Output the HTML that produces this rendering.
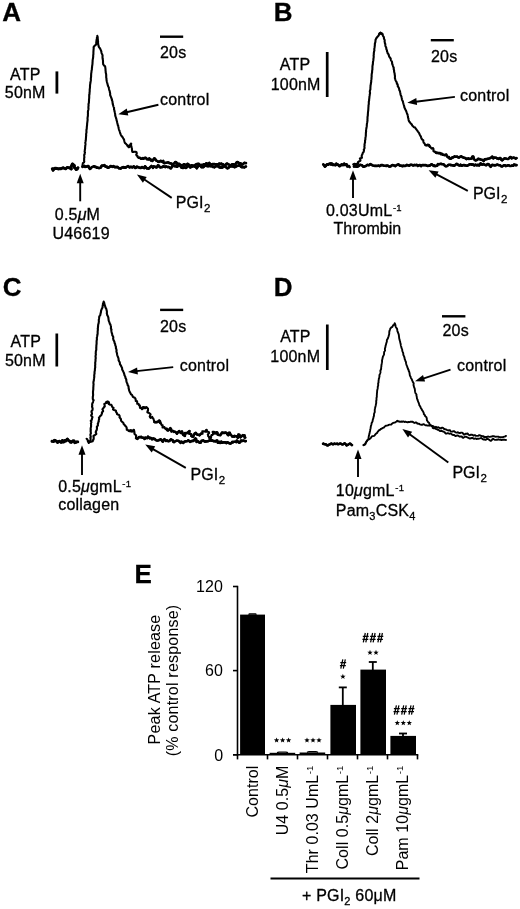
<!DOCTYPE html>
<html><head><meta charset="utf-8"><style>
html,body{margin:0;padding:0;background:#fff;width:520px;height:909px;overflow:hidden;}
svg{display:block;will-change:transform;}
text{font-family:"Liberation Sans", sans-serif;stroke:#000;stroke-width:0.3px;}
.ns text{stroke:none;}
</style></head><body>
<svg width="520" height="909" viewBox="0 0 520 909" font-family="Liberation Sans, sans-serif" fill="#000" letter-spacing="0.2"><text x="2.2" y="21.0" font-size="26" text-anchor="start" font-weight="bold" >A</text>
<text x="10.0" y="79.5" font-size="16" text-anchor="start" font-weight="normal" >ATP</text>
<text x="4.8" y="98.4" font-size="16" text-anchor="start" font-weight="normal" >50nM</text>
<line x1="56.9" y1="71.4" x2="56.9" y2="93.6" stroke="#000" stroke-width="2.8"/>
<line x1="160.0" y1="36.7" x2="183.2" y2="36.7" stroke="#000" stroke-width="2.4"/>
<text x="160.0" y="58.2" font-size="16" text-anchor="start" font-weight="normal" >20s</text>
<text x="160.0" y="105.0" font-size="16" text-anchor="start" font-weight="normal" >control</text>
<line x1="158.4" y1="104.8" x2="126.6" y2="112.2" stroke="#000" stroke-width="1.9"/><polygon points="118.3,114.2 126.8,108.6 128.3,115.4" fill="#000"/>
<text x="175.8" y="208.0" font-size="16" letter-spacing="0">PGI<tspan font-size="11.5" dx="0.6" dy="4">2</tspan></text>
<line x1="171.7" y1="197.9" x2="144.0" y2="179.3" stroke="#000" stroke-width="1.9"/><polygon points="136.9,174.6 146.7,177.0 142.9,182.8" fill="#000"/>
<line x1="80.2" y1="201.3" x2="80.2" y2="182.2" stroke="#000" stroke-width="1.9"/><polygon points="80.2,173.7 83.7,183.2 76.7,183.2" fill="#000"/>
<text x="54.8" y="220.0" font-size="16" text-anchor="start" font-weight="normal" >0.5<tspan font-style="italic">μ</tspan>M</text>
<text x="52.5" y="239.2" font-size="16" text-anchor="start" font-weight="normal" >U46619</text>
<path d="M52.3,168.8 L53.1,170.3 L54.0,168.7 L54.9,168.1 L55.7,168.6 L56.6,168.3 L57.4,168.6 L58.3,169.0 L59.1,168.7 L60.0,168.7 L60.8,168.9 L61.6,168.3 L62.4,168.0 L63.2,167.8 L64.0,168.2 L64.8,168.5 L65.6,168.8 L66.4,168.2 L67.2,167.5 L67.8,167.4 L68.9,168.1 L69.7,167.9 L71.3,169.0 L71.1,166.8 L72.4,163.9 L74.4,165.7 L74.3,166.6 L74.4,167.5 L75.3,168.2 L76.1,169.5 L77.1,169.2 L78.0,167.7" fill="none" stroke="#000" stroke-linejoin="round" stroke-linecap="round" stroke-width="2.4"/>
<path d="M52.3,168.8 L53.1,170.3 L54.0,168.7 L54.9,168.1 L55.7,168.6 L56.6,168.3 L57.4,168.6 L58.3,169.0 L59.1,168.7 L60.0,168.7 L60.8,168.9 L61.6,168.3 L62.4,168.0 L63.2,167.8 L64.0,168.2 L64.8,168.5 L65.6,168.8 L66.4,168.2 L67.2,167.5 L67.8,167.4" fill="none" stroke="#000" stroke-linejoin="round" stroke-linecap="round" stroke-width="2.9"/>
<path d="M69.7,167.9 L71.3,169.0 L71.1,166.8 L72.4,163.9 L74.4,165.7 L74.3,166.6 L74.4,167.5 L75.3,168.2 L76.1,169.5 L77.1,169.2 L78.0,167.7" fill="none" stroke="#000" stroke-linejoin="round" stroke-linecap="round" stroke-width="2.9"/>
<path d="M82.3,166.3 L82.5,165.1 L82.7,164.1 L82.9,163.1 L84.0,162.3 L84.3,161.5 L84.1,160.7 L84.1,159.8 L84.2,159.0 L84.1,158.2 L84.4,157.4 L84.3,156.5 L84.2,155.7 L84.2,154.9 L84.7,154.1 L84.7,153.2 L85.0,152.4 L84.6,151.6 L84.8,150.7 L84.8,149.9 L85.0,149.1 L85.1,148.3 L85.1,147.5 L85.2,146.6 L85.2,145.8 L85.4,145.0 L85.5,144.2 L85.4,143.3 L85.3,142.5 L85.5,141.7 L85.7,140.8 L85.8,140.0 L85.9,139.2 L85.9,138.4 L86.0,137.6 L86.0,136.8 L86.1,136.0 L86.2,135.2 L86.1,134.4 L86.2,133.6 L86.4,132.8 L86.5,132.0 L86.4,131.2 L86.4,130.4 L86.6,129.6 L86.7,128.8 L86.8,128.0 L86.8,127.2 L86.9,126.4 L87.0,125.6 L87.1,124.8 L87.1,124.0 L87.2,123.2 L87.3,122.4 L87.4,121.6 L87.5,120.8 L87.6,120.0 L87.6,119.2 L87.5,118.4 L87.6,117.6 L87.7,116.8 L87.9,116.0 L87.9,115.2 L87.9,114.4 L88.0,113.5 L87.9,112.7 L87.9,111.9 L88.0,111.1 L88.2,110.2 L88.4,109.4 L88.5,108.6 L88.4,107.8 L88.4,107.0 L88.5,106.1 L88.6,105.3 L88.5,104.5 L88.6,103.7 L88.9,102.9 L88.9,102.0 L89.0,101.2 L89.0,100.4 L89.0,99.6 L89.1,98.8 L89.2,97.9 L89.2,97.1 L89.2,96.3 L89.2,95.5 L89.4,94.6 L89.5,93.8 L89.5,93.0 L89.6,92.2 L89.7,91.4 L89.7,90.5 L89.7,89.7 L89.8,88.9 L89.9,88.1 L90.0,87.3 L90.0,86.4 L90.0,85.6 L90.1,84.8 L90.2,84.0 L90.4,83.1 L90.5,82.3 L90.6,81.5 L90.8,80.7 L90.9,79.9 L90.8,79.0 L90.9,78.2 L91.0,77.4 L91.1,76.6 L91.1,75.7 L91.1,74.9 L91.2,74.1 L91.2,73.3 L91.4,72.5 L91.5,71.6 L91.5,70.8 L91.8,70.0 L91.9,69.0 L91.9,68.0 L92.1,67.0 L92.1,66.1 L92.3,65.3 L92.4,64.4 L92.5,63.5 L92.5,62.6 L92.6,61.8 L92.6,60.9 L92.7,60.0 L92.8,59.2 L93.0,58.3 L93.1,57.5 L93.2,56.7 L93.2,55.9 L93.2,55.1 L93.4,54.3 L93.4,53.5 L93.4,52.7 L93.4,51.8 L93.5,51.0 L93.5,50.2 L93.6,49.4 L93.7,48.6 L93.6,47.8 L93.7,47.0 L94.7,45.7 L95.4,45.1 L96.1,44.6 L96.3,43.7 L96.2,42.9 L96.3,42.1 L96.4,41.3 L96.5,40.4 L96.6,39.6 L96.9,38.8 L96.9,38.0 L97.0,37.2 L97.2,36.4 L97.3,35.8 L97.4,36.4 L97.7,37.3 L97.7,38.1 L97.8,39.0 L97.9,39.8 L97.9,40.7 L98.1,41.5 L98.0,42.4 L98.1,43.2 L98.2,44.1 L98.3,44.9 L98.6,45.7 L98.7,46.6 L99.1,47.4 L99.8,48.0 L100.2,48.8 L100.6,49.6 L100.9,50.3 L101.2,51.1 L101.4,51.8 L101.5,52.7 L101.7,53.4 L102.1,54.1 L102.4,54.9 L102.6,55.7 L102.5,56.6 L102.5,57.4 L102.6,58.3 L102.7,59.1 L102.9,60.0 L103.0,60.9 L103.0,61.7 L103.0,62.6 L103.1,63.4 L103.2,64.3 L103.7,65.0 L104.2,65.7 L105.0,66.1 L105.2,66.8 L105.3,67.6 L105.4,68.4 L105.5,69.2 L105.5,70.0 L105.6,70.8 L105.7,71.6 L105.7,72.5 L105.9,73.3 L106.1,74.1 L106.2,74.9 L106.2,75.7 L106.2,76.6 L106.2,77.4 L106.4,78.2 L106.5,79.0 L106.5,79.9 L106.7,80.7 L106.8,81.5 L107.0,82.3 L107.3,83.2 L107.5,84.0 L107.7,84.8 L107.9,85.7 L108.2,86.5 L108.7,87.3 L108.9,88.1 L109.0,88.9 L109.2,89.8 L109.5,90.6 L109.8,91.4 L109.8,92.2 L110.1,93.0 L110.2,93.9 L110.1,94.8 L110.4,95.6 L110.7,96.4 L111.0,97.2 L111.3,98.0 L111.7,98.8 L111.8,99.6 L112.0,100.4 L112.4,101.2 L112.5,102.1 L112.6,103.0 L112.7,103.8 L112.9,104.7 L113.2,105.5 L113.4,106.3 L113.7,107.1 L114.1,107.9 L114.0,108.8 L114.1,109.6 L114.4,110.4 L114.5,111.3 L114.8,112.1 L114.9,112.9 L115.1,113.7 L115.2,114.6 L115.2,115.4 L115.4,116.2 L115.7,117.0 L116.0,117.8 L116.2,118.7 L116.5,119.5 L116.6,120.4 L116.9,121.2 L117.1,122.0 L117.3,122.9 L117.5,123.7 L117.7,124.5 L117.9,125.4 L118.3,126.1 L118.4,126.9 L118.6,127.7 L118.7,128.5 L118.9,129.3 L119.1,130.0 L119.5,130.8 L119.7,131.5 L120.0,132.3 L120.1,133.1 L120.5,133.8 L120.7,134.6 L121.1,135.4 L121.6,136.0 L122.2,136.7 L122.7,137.4 L123.1,138.1 L123.5,138.9 L124.0,139.5 L124.2,140.4 L124.4,141.2 L124.6,142.1 L124.9,142.9 L125.6,143.5 L126.2,144.1 L126.7,144.7 L127.3,145.4 L127.9,145.9 L128.6,146.4 L128.8,147.0 L129.4,146.7 L129.9,146.0 L130.3,145.3 L130.6,144.5 L131.0,143.9 L131.0,144.7 L131.1,145.6 L131.4,146.4 L131.6,147.3 L131.9,148.2 L131.9,149.1 L132.0,149.9 L132.1,150.9 L132.4,152.0 L133.5,151.9 L134.6,151.7 L135.5,151.8 L136.5,152.3 L136.8,153.4 L136.2,154.7 L136.5,155.5 L137.5,156.0 L137.6,156.9 L138.2,157.4 L138.8,157.7 L139.7,157.7 L140.4,158.2 L141.1,158.8 L142.0,158.7 L142.9,158.1 L143.6,158.7 L144.5,158.0 L145.3,157.8 L146.1,158.0 L146.8,159.2 L147.6,159.3 L148.4,159.5 L149.3,158.4 L150.0,159.1 L150.8,160.3 L151.6,159.8 L152.4,160.9 L153.3,159.8 L154.3,158.3 L155.1,158.9 L155.8,160.0 L156.6,160.8 L157.4,161.1 L158.2,161.8 L159.0,161.9 L159.8,161.6 L160.8,160.8 L161.4,161.3 L162.1,161.8 L163.2,160.9 L163.6,162.6 L164.3,163.1 L165.1,163.0 L166.1,162.7 L166.9,162.6 L167.8,162.4 L168.6,162.5 L169.3,163.1 L170.1,163.2 L170.9,163.3 L171.6,164.1 L172.4,164.4 L173.3,163.7 L174.2,163.5 L175.2,162.1 L176.0,162.1 L176.8,162.9 L177.5,164.6 L178.4,163.8 L179.2,163.9 L180.0,164.9 L180.8,164.9 L181.6,165.8 L182.4,165.3 L183.4,164.7 L184.2,164.2 L185.0,164.6 L185.8,165.3 L186.6,165.1 L187.4,163.9 L188.2,164.0 L189.1,165.5 L189.9,166.7 L190.7,165.8 L191.5,165.2 L192.3,165.5 L193.1,165.5 L193.9,166.0 L194.8,166.1 L195.5,164.7 L196.3,164.3 L197.1,164.0 L198.0,163.9 L198.8,163.7 L199.6,165.1 L200.4,165.5 L201.2,164.9 L202.0,165.9 L202.8,164.8 L203.6,164.4 L204.5,164.4 L205.3,164.6 L206.1,163.4 L206.9,163.4 L207.7,164.5 L208.5,164.2 L209.3,162.8 L210.1,164.6 L211.0,165.1 L211.8,164.2 L212.6,164.1 L213.4,164.1 L214.2,164.0 L215.0,164.3 L215.8,164.3 L216.6,164.2 L217.4,164.3 L218.3,165.1 L219.1,163.5 L219.9,164.3 L220.7,163.7 L221.5,163.6 L222.3,164.7 L223.2,164.3 L224.0,165.1 L224.8,165.5 L225.6,165.0 L226.4,163.8 L227.2,163.6 L228.1,164.3 L228.9,164.6 L229.7,164.9 L230.5,165.6 L231.3,165.0 L232.1,164.3 L233.0,164.4 L233.8,164.4 L234.6,165.6 L235.4,164.5 L236.2,162.9 L237.0,162.0 L237.8,162.0 L238.6,163.0 L239.5,163.1 L240.3,163.2 L241.1,163.6 L241.9,164.6 L242.7,164.5 L243.5,163.6 L244.3,162.8 L245.2,163.0 L246.0,163.1" fill="none" stroke="#000" stroke-linejoin="round" stroke-linecap="round" stroke-width="2.1"/>
<path d="M127.9,145.9 L128.6,146.4 L128.8,147.0 L129.4,146.7 L129.9,146.0 L130.3,145.3 L130.6,144.5 L131.0,143.9" fill="none" stroke="#000" stroke-linejoin="round" stroke-linecap="round" stroke-width="2.6"/>
<path d="M138.8,157.7 L139.7,157.7 L140.4,158.2 L141.1,158.8 L142.0,158.7 L142.9,158.1 L143.6,158.7 L144.5,158.0 L145.3,157.8 L146.1,158.0 L146.8,159.2 L147.6,159.3 L148.4,159.5 L149.3,158.4 L150.0,159.1 L150.8,160.3 L151.6,159.8 L152.4,160.9 L153.3,159.8 L154.3,158.3 L155.1,158.9 L155.8,160.0 L156.6,160.8 L157.4,161.1 L158.2,161.8 L159.0,161.9 L159.8,161.6 L160.8,160.8 L161.4,161.3 L162.1,161.8 L163.2,160.9 L163.6,162.6 L164.3,163.1 L165.1,163.0 L166.1,162.7 L166.9,162.6 L167.8,162.4 L168.6,162.5 L169.3,163.1 L170.1,163.2 L170.9,163.3 L171.6,164.1 L172.4,164.4 L173.3,163.7 L174.2,163.5 L175.2,162.1 L176.0,162.1 L176.8,162.9 L177.5,164.6 L178.4,163.8 L179.2,163.9 L180.0,164.9 L180.8,164.9 L181.6,165.8 L182.4,165.3 L183.4,164.7 L184.2,164.2 L185.0,164.6 L185.8,165.3 L186.6,165.1 L187.4,163.9 L188.2,164.0 L189.1,165.5 L189.9,166.7 L190.7,165.8 L191.5,165.2 L192.3,165.5 L193.1,165.5 L193.9,166.0 L194.8,166.1 L195.5,164.7 L196.3,164.3 L197.1,164.0 L198.0,163.9 L198.8,163.7 L199.6,165.1 L200.4,165.5 L201.2,164.9 L202.0,165.9 L202.8,164.8 L203.6,164.4 L204.5,164.4 L205.3,164.6 L206.1,163.4 L206.9,163.4 L207.7,164.5 L208.5,164.2 L209.3,162.8 L210.1,164.6 L211.0,165.1 L211.8,164.2 L212.6,164.1 L213.4,164.1 L214.2,164.0 L215.0,164.3 L215.8,164.3 L216.6,164.2 L217.4,164.3 L218.3,165.1 L219.1,163.5 L219.9,164.3 L220.7,163.7 L221.5,163.6 L222.3,164.7 L223.2,164.3 L224.0,165.1 L224.8,165.5 L225.6,165.0 L226.4,163.8 L227.2,163.6 L228.1,164.3 L228.9,164.6 L229.7,164.9 L230.5,165.6 L231.3,165.0 L232.1,164.3 L233.0,164.4 L233.8,164.4 L234.6,165.6 L235.4,164.5 L236.2,162.9 L237.0,162.0 L237.8,162.0 L238.6,163.0 L239.5,163.1 L240.3,163.2 L241.1,163.6 L241.9,164.6 L242.7,164.5 L243.5,163.6 L244.3,162.8 L245.2,163.0 L246.0,163.1" fill="none" stroke="#000" stroke-linejoin="round" stroke-linecap="round" stroke-width="2.6"/>
<path d="M82.5,166.8 L83.4,166.3 L84.3,165.8 L85.0,166.9 L85.9,166.6 L86.7,166.6 L87.6,166.0 L88.4,166.1 L89.1,167.8 L89.9,168.9 L90.8,168.3 L91.7,167.2 L92.5,166.9 L93.3,166.6 L94.2,166.3 L95.0,167.0 L95.8,166.9 L96.7,167.6 L97.5,167.5 L98.3,167.9 L99.2,168.1 L100.2,167.8 L101.1,167.3 L101.4,166.1 L102.0,165.5 L103.4,165.8 L103.7,165.6 L104.4,165.1 L104.9,165.8 L105.3,166.5 L106.1,166.8 L106.8,166.5 L107.6,167.8 L108.5,167.8 L109.3,167.1 L110.1,166.5 L111.0,166.0 L111.8,166.5 L112.6,166.9 L113.4,166.1 L114.2,166.8 L115.1,167.3 L115.9,166.8 L116.7,167.2 L117.5,166.9 L118.3,167.7 L119.2,168.4 L120.0,168.1 L120.8,168.6 L121.6,167.8 L122.4,167.5 L123.2,167.0 L124.0,167.7 L124.8,167.4 L125.6,167.7 L126.5,166.9 L127.3,166.6 L128.1,166.0 L128.9,167.0 L129.7,167.5 L130.5,166.9 L131.3,166.9 L132.1,167.4 L132.9,167.2 L133.7,166.3 L134.5,166.8 L135.3,168.0 L136.1,167.6 L136.9,166.6 L137.7,167.0 L138.5,167.4 L139.4,167.5 L140.2,168.0 L141.0,167.9 L141.8,167.0 L142.6,167.4 L143.4,167.9 L144.2,168.1 L145.0,166.3 L145.8,167.0 L146.7,168.4 L147.5,168.3 L148.3,168.7 L149.1,168.4 L149.8,167.5 L150.6,166.9 L151.4,166.0 L152.2,166.8 L153.1,167.8 L153.8,166.3 L154.7,166.8 L155.5,166.8 L156.3,167.5 L157.1,167.1 L157.8,165.4 L158.7,165.5 L159.5,166.8 L160.3,167.4 L161.1,167.3 L161.9,167.2 L162.7,166.6 L163.5,166.3 L164.4,166.7 L165.2,167.1 L166.0,166.4 L166.8,166.7 L167.6,167.1 L168.4,166.9 L169.2,167.2 L170.0,168.0 L170.8,168.4 L171.6,167.4 L172.4,165.8 L173.2,165.7 L174.1,166.1 L174.9,166.1 L175.7,165.6 L176.5,166.7 L177.3,166.7 L178.1,165.4 L178.9,165.3 L179.7,165.5 L180.5,166.2 L181.4,167.6 L182.2,167.7 L183.0,168.0 L183.8,167.2 L184.6,167.1 L185.4,167.9 L186.2,167.9 L187.0,167.0 L187.8,166.5 L188.6,165.7 L189.5,165.6 L190.3,167.5 L191.1,167.0 L191.9,166.8 L192.7,166.1 L193.5,166.1 L194.3,166.4 L195.1,165.6 L195.9,167.2 L196.8,168.3 L197.6,166.9 L198.4,165.8 L199.2,165.4 L200.0,165.8 L200.8,166.4 L201.6,167.3 L202.4,167.0 L203.2,167.3 L204.0,166.6 L204.8,165.9 L205.6,165.8 L206.5,165.7 L207.3,166.3 L208.1,166.0 L208.9,166.1 L209.7,165.6 L210.5,166.3 L211.3,166.0 L212.1,166.2 L212.9,166.9 L213.7,166.8 L214.5,167.3 L215.3,166.6 L216.1,166.1 L216.9,166.2 L217.8,166.1 L218.6,166.8 L219.4,167.3 L220.2,167.7 L221.0,167.1 L221.8,167.7 L222.6,167.4 L223.4,166.6 L224.2,166.3 L225.0,166.6 L225.8,167.1 L226.6,167.6 L227.4,168.4 L228.3,168.0 L229.1,167.2 L229.9,166.4 L230.7,166.5 L231.5,166.1 L232.3,166.4 L233.1,166.6 L233.9,166.9 L234.7,167.2 L235.5,166.6 L236.3,166.5 L237.1,165.7 L237.9,165.8 L238.7,165.4 L239.5,165.4 L240.3,166.0 L241.2,166.9 L242.0,167.3 L242.8,167.3 L243.6,167.3 L244.4,167.4 L245.2,166.8 L246.0,166.5" fill="none" stroke="#000" stroke-linejoin="round" stroke-linecap="round" stroke-width="2.1"/>
<path d="M82.5,166.8 L83.4,166.3 L84.3,165.8 L85.0,166.9 L85.9,166.6 L86.7,166.6 L87.6,166.0 L88.4,166.1 L89.1,167.8 L89.9,168.9 L90.8,168.3 L91.7,167.2 L92.5,166.9 L93.3,166.6 L94.2,166.3 L95.0,167.0 L95.8,166.9 L96.7,167.6 L97.5,167.5 L98.3,167.9 L99.2,168.1 L100.2,167.8 L101.1,167.3 L101.4,166.1 L102.0,165.5 L103.4,165.8 L103.7,165.6 L104.4,165.1 L104.9,165.8 L105.3,166.5 L106.1,166.8 L106.8,166.5 L107.6,167.8 L108.5,167.8 L109.3,167.1 L110.1,166.5 L111.0,166.0 L111.8,166.5 L112.6,166.9 L113.4,166.1 L114.2,166.8 L115.1,167.3 L115.9,166.8 L116.7,167.2 L117.5,166.9 L118.3,167.7 L119.2,168.4 L120.0,168.1 L120.8,168.6 L121.6,167.8 L122.4,167.5 L123.2,167.0 L124.0,167.7 L124.8,167.4 L125.6,167.7 L126.5,166.9 L127.3,166.6 L128.1,166.0 L128.9,167.0 L129.7,167.5 L130.5,166.9 L131.3,166.9 L132.1,167.4 L132.9,167.2 L133.7,166.3 L134.5,166.8 L135.3,168.0 L136.1,167.6 L136.9,166.6 L137.7,167.0 L138.5,167.4 L139.4,167.5 L140.2,168.0 L141.0,167.9 L141.8,167.0 L142.6,167.4 L143.4,167.9 L144.2,168.1 L145.0,166.3 L145.8,167.0 L146.7,168.4 L147.5,168.3 L148.3,168.7 L149.1,168.4 L149.8,167.5 L150.6,166.9 L151.4,166.0 L152.2,166.8 L153.1,167.8 L153.8,166.3 L154.7,166.8 L155.5,166.8 L156.3,167.5 L157.1,167.1 L157.8,165.4 L158.7,165.5 L159.5,166.8 L160.3,167.4 L161.1,167.3 L161.9,167.2 L162.7,166.6 L163.5,166.3 L164.4,166.7 L165.2,167.1 L166.0,166.4 L166.8,166.7 L167.6,167.1 L168.4,166.9 L169.2,167.2 L170.0,168.0 L170.8,168.4 L171.6,167.4 L172.4,165.8 L173.2,165.7 L174.1,166.1 L174.9,166.1 L175.7,165.6 L176.5,166.7 L177.3,166.7 L178.1,165.4 L178.9,165.3 L179.7,165.5 L180.5,166.2 L181.4,167.6 L182.2,167.7 L183.0,168.0 L183.8,167.2 L184.6,167.1 L185.4,167.9 L186.2,167.9 L187.0,167.0 L187.8,166.5 L188.6,165.7 L189.5,165.6 L190.3,167.5 L191.1,167.0 L191.9,166.8 L192.7,166.1 L193.5,166.1 L194.3,166.4 L195.1,165.6 L195.9,167.2 L196.8,168.3 L197.6,166.9 L198.4,165.8 L199.2,165.4 L200.0,165.8 L200.8,166.4 L201.6,167.3 L202.4,167.0 L203.2,167.3 L204.0,166.6 L204.8,165.9 L205.6,165.8 L206.5,165.7 L207.3,166.3 L208.1,166.0 L208.9,166.1 L209.7,165.6 L210.5,166.3 L211.3,166.0 L212.1,166.2 L212.9,166.9 L213.7,166.8 L214.5,167.3 L215.3,166.6 L216.1,166.1 L216.9,166.2 L217.8,166.1 L218.6,166.8 L219.4,167.3 L220.2,167.7 L221.0,167.1 L221.8,167.7 L222.6,167.4 L223.4,166.6 L224.2,166.3 L225.0,166.6 L225.8,167.1 L226.6,167.6 L227.4,168.4 L228.3,168.0 L229.1,167.2 L229.9,166.4 L230.7,166.5 L231.5,166.1 L232.3,166.4 L233.1,166.6 L233.9,166.9 L234.7,167.2 L235.5,166.6 L236.3,166.5 L237.1,165.7 L237.9,165.8 L238.7,165.4 L239.5,165.4 L240.3,166.0 L241.2,166.9 L242.0,167.3 L242.8,167.3 L243.6,167.3 L244.4,167.4 L245.2,166.8 L246.0,166.5" fill="none" stroke="#000" stroke-linejoin="round" stroke-linecap="round" stroke-width="2.6"/>
<text x="273.7" y="21.0" font-size="26" text-anchor="start" font-weight="bold" >B</text>
<text x="279.8" y="69.5" font-size="16" text-anchor="start" font-weight="normal" >ATP</text>
<text x="270.7" y="89.5" font-size="16" text-anchor="start" font-weight="normal" >100nM</text>
<line x1="327.2" y1="52.0" x2="327.2" y2="97.0" stroke="#000" stroke-width="2.7"/>
<line x1="430.8" y1="40.2" x2="453.8" y2="40.2" stroke="#000" stroke-width="2.4"/>
<text x="431.0" y="61.5" font-size="16" text-anchor="start" font-weight="normal" >20s</text>
<text x="460.0" y="101.0" font-size="16" text-anchor="start" font-weight="normal" >control</text>
<line x1="454.9" y1="96.9" x2="415.7" y2="101.7" stroke="#000" stroke-width="1.9"/><polygon points="407.3,102.8 416.3,98.1 417.1,105.1" fill="#000"/>
<text x="472.9" y="199.4" font-size="16" letter-spacing="0">PGI<tspan font-size="11.5" dx="0.6" dy="4">2</tspan></text>
<line x1="467.8" y1="190.8" x2="436.1" y2="174.2" stroke="#000" stroke-width="1.9"/><polygon points="428.6,170.3 438.6,171.6 435.4,177.8" fill="#000"/>
<line x1="353.0" y1="197.9" x2="353.0" y2="178.8" stroke="#000" stroke-width="1.9"/><polygon points="353.0,170.3 356.5,179.8 349.5,179.8" fill="#000"/>
<text x="326.0" y="215.8" font-size="16" text-anchor="start" font-weight="normal" >0.03UmL<tspan font-size="9.5" dx="0.6" dy="-5.2">-1</tspan></text>
<text x="333.5" y="233.5" font-size="16" text-anchor="start" font-weight="normal" letter-spacing="0">Thrombin</text>
<path d="M323.3,164.4 L324.1,165.3 L324.9,166.6 L325.7,166.0 L326.6,164.7 L327.4,164.3 L328.2,164.7 L328.6,164.5 L328.8,164.1 L329.8,163.7 L330.9,163.5 L331.2,164.5 L331.1,163.5 L332.1,163.7 L332.5,164.4 L333.0,165.0 L333.8,164.7 L334.6,165.0 L335.4,165.2 L336.3,163.7 L337.0,164.6 L337.8,164.5 L338.6,165.3 L339.4,166.1 L340.2,165.9 L341.0,164.9 L341.8,164.4 L342.6,165.0 L343.4,165.0 L344.2,163.7 L345.0,164.9 L345.8,164.6 L346.6,164.4 L347.4,166.4 L348.2,166.2 L349.0,166.2 L349.8,167.2" fill="none" stroke="#000" stroke-linejoin="round" stroke-linecap="round" stroke-width="2.3"/>
<path d="M323.3,164.4 L324.1,165.3 L324.9,166.6 L325.7,166.0 L326.6,164.7 L327.4,164.3 L328.2,164.7 L328.6,164.5 L328.8,164.1 L329.8,163.7 L330.9,163.5 L331.2,164.5 L331.1,163.5 L332.1,163.7 L332.5,164.4 L333.0,165.0 L333.8,164.7 L334.6,165.0 L335.4,165.2 L336.3,163.7 L337.0,164.6 L337.8,164.5 L338.6,165.3 L339.4,166.1 L340.2,165.9 L341.0,164.9 L341.8,164.4 L342.6,165.0 L343.4,165.0 L344.2,163.7 L345.0,164.9 L345.8,164.6 L346.6,164.4 L347.4,166.4 L348.2,166.2 L349.0,166.2" fill="none" stroke="#000" stroke-linejoin="round" stroke-linecap="round" stroke-width="2.7"/>
<path d="M353.6,164.4 L354.6,164.1 L355.8,164.4 L356.9,164.5 L357.3,163.8 L358.0,163.3 L358.0,162.2 L358.7,161.7 L359.4,161.2 L360.3,160.8 L360.5,159.9 L359.9,158.5 L360.9,158.1 L362.0,157.7 L361.7,156.7 L361.7,155.8 L361.9,155.0 L362.4,154.3 L362.6,153.5 L362.9,152.7 L363.6,152.0 L363.8,151.2 L364.0,150.4 L363.8,149.5 L364.3,148.7 L364.6,147.9 L364.4,147.0 L364.4,146.2 L364.6,145.4 L364.5,144.6 L364.7,143.8 L364.8,143.0 L365.1,142.2 L365.0,141.4 L365.0,140.6 L365.3,139.8 L365.4,139.0 L365.4,138.2 L365.5,137.4 L365.7,136.5 L365.8,135.7 L365.9,134.9 L365.8,134.1 L365.9,133.3 L365.9,132.4 L366.1,131.6 L366.1,130.8 L366.0,130.0 L366.2,129.2 L366.4,128.3 L366.5,127.5 L366.7,126.7 L366.8,125.8 L366.8,125.0 L366.9,124.1 L367.0,123.3 L367.2,122.4 L367.3,121.6 L367.5,120.7 L367.4,119.9 L367.5,119.0 L367.5,118.2 L367.5,117.3 L367.6,116.5 L367.8,115.7 L367.8,114.8 L367.9,114.0 L367.9,113.2 L368.0,112.4 L368.1,111.5 L368.2,110.7 L368.3,109.9 L368.3,109.1 L368.4,108.2 L368.4,107.4 L368.5,106.6 L368.5,105.7 L368.6,104.9 L368.8,104.1 L368.8,103.3 L368.8,102.5 L368.8,101.6 L369.1,100.8 L369.1,100.0 L369.2,99.2 L369.3,98.3 L369.4,97.5 L369.4,96.7 L369.6,95.9 L369.7,95.1 L369.8,94.2 L370.0,93.4 L370.0,92.6 L369.8,91.7 L369.9,90.9 L370.1,90.1 L370.4,89.3 L370.4,88.5 L370.4,87.6 L370.5,86.8 L370.5,86.0 L370.6,85.2 L370.8,84.3 L370.9,83.5 L371.0,82.7 L371.2,81.9 L371.2,81.1 L371.2,80.2 L371.4,79.4 L371.5,78.6 L371.5,77.8 L371.6,76.9 L371.7,76.1 L371.6,75.3 L371.7,74.4 L371.8,73.6 L372.0,72.8 L372.1,72.0 L372.1,71.2 L372.2,70.3 L372.4,69.5 L372.4,68.7 L372.4,67.9 L372.5,67.0 L372.4,66.2 L372.6,65.4 L372.8,64.6 L372.9,63.8 L372.9,62.9 L373.0,62.1 L373.1,61.3 L373.3,60.4 L373.4,59.6 L373.4,58.8 L373.6,58.0 L373.7,57.1 L373.7,56.3 L373.6,55.5 L373.8,54.6 L373.8,53.8 L373.8,53.0 L374.0,52.1 L374.1,51.3 L374.4,50.5 L374.3,49.7 L374.3,48.8 L374.5,48.0 L374.6,47.2 L374.7,46.4 L374.8,45.6 L374.9,44.8 L374.8,44.0 L375.0,43.2 L375.3,42.4 L375.4,41.6 L375.5,40.8 L375.5,40.0 L375.9,39.1 L376.3,38.2 L376.9,37.5 L377.5,36.8 L378.2,36.1 L378.8,35.4 L379.0,34.3 L379.7,33.6 L380.5,32.9 L381.2,33.5 L382.0,33.8 L382.7,34.3 L382.8,35.7 L383.5,36.6 L383.9,37.3 L383.9,38.2 L384.1,39.0 L384.6,39.8 L384.7,40.6 L384.6,41.5 L384.8,42.3 L384.9,43.2 L385.3,44.0 L385.3,44.8 L385.4,45.7 L385.6,46.5 L386.1,47.3 L386.3,48.2 L386.3,49.0 L386.7,49.8 L387.0,50.6 L387.0,51.5 L387.5,52.3 L387.6,53.2 L388.2,53.9 L388.7,54.6 L388.8,55.5 L389.1,56.3 L389.5,57.1 L390.0,57.8 L390.7,58.5 L390.8,59.4 L391.0,60.3 L391.5,61.0 L392.0,61.8 L392.1,62.6 L392.1,63.5 L392.3,64.2 L392.7,65.0 L392.9,65.8 L393.1,66.5 L393.5,67.3 L393.8,68.0 L393.6,68.9 L393.9,69.7 L394.1,70.5 L394.1,71.4 L394.2,72.2 L394.5,73.0 L394.7,73.9 L394.7,74.7 L394.9,75.6 L395.0,76.4 L394.9,77.3 L394.9,78.2 L395.2,79.0 L395.4,79.8 L395.7,80.6 L396.1,81.4 L396.6,82.1 L396.8,82.9 L396.9,83.8 L397.6,84.4 L397.8,85.3 L397.7,86.2 L398.2,86.9 L398.7,87.6 L399.0,88.4 L399.2,89.2 L399.3,90.1 L399.8,90.8 L400.0,91.6 L400.2,92.5 L400.4,93.3 L400.5,94.2 L400.7,95.0 L401.1,95.8 L401.4,96.6 L401.6,97.5 L401.8,98.3 L401.9,99.2 L402.1,100.0 L402.6,100.8 L402.9,101.6 L403.1,102.5 L403.3,103.3 L403.6,104.2 L403.8,105.0 L404.1,105.9 L404.3,106.7 L404.4,107.6 L404.8,108.3 L405.1,109.1 L405.5,109.8 L405.9,110.5 L406.2,111.2 L406.5,112.0 L406.8,112.8 L407.1,113.5 L407.3,114.3 L407.7,115.0 L407.8,115.9 L408.0,116.7 L408.0,117.5 L408.3,118.3 L408.5,119.1 L408.6,119.9 L408.8,120.7 L409.1,121.5 L409.8,122.1 L410.3,122.8 L410.7,123.6 L411.6,124.1 L411.9,124.9 L412.4,125.7 L413.0,126.2 L413.6,126.8 L414.3,127.3 L415.2,127.5 L415.5,128.3 L416.0,128.9 L416.5,129.6 L417.0,130.2 L417.5,130.9 L417.9,131.6 L418.4,132.2 L418.9,132.8 L419.3,133.5 L419.6,134.4 L420.0,135.1 L420.4,135.9 L420.9,136.6 L421.1,137.5 L421.4,138.3 L421.8,139.1 L422.4,139.7 L423.3,140.1 L423.3,141.0 L423.5,141.9 L423.7,142.7 L424.4,143.3 L424.9,144.2 L425.2,145.2 L426.3,145.2 L427.8,144.9 L428.8,145.1 L429.3,145.8 L429.9,146.6 L430.4,147.2 L431.0,147.9 L431.6,148.6 L433.0,148.0 L433.5,148.9 L433.4,151.0 L434.0,151.6 L435.1,151.6 L435.7,152.3 L436.3,153.0 L437.5,152.9 L438.5,153.1 L439.6,153.0 L440.4,153.4 L440.9,154.1 L441.8,153.7 L442.6,154.6 L443.5,154.7 L444.3,155.1 L445.2,154.9 L446.3,154.6 L446.7,155.8 L447.3,156.6 L448.0,157.3 L449.0,157.1 L449.4,158.3 L450.1,158.7 L451.4,158.4 L452.3,157.3 L453.1,157.5 L453.9,156.9 L454.7,156.4 L455.5,156.8 L456.3,156.8 L457.1,156.6 L458.0,157.3 L458.8,157.6 L459.6,157.1 L460.6,156.5 L461.5,156.4 L462.3,157.2 L463.1,157.3 L463.9,157.8 L464.8,157.8 L465.6,158.4 L466.4,159.1 L467.3,158.8 L468.2,158.3 L469.0,158.9 L469.8,158.8 L470.6,158.8 L471.5,158.6 L472.4,156.6 L473.3,156.6 L473.9,159.0 L474.7,159.9 L475.5,160.4 L476.3,160.3 L477.2,159.9 L478.0,158.9 L478.9,158.9 L479.7,159.1 L480.5,159.6 L481.3,159.8 L482.1,159.8 L482.9,160.3 L483.7,161.0 L484.6,159.3 L485.3,159.5 L485.9,159.1 L487.0,159.1 L487.8,158.8 L488.7,158.7 L489.4,158.3 L490.1,158.2 L490.9,157.7 L491.6,157.2 L492.3,156.6 L492.8,157.4 L493.3,158.4 L494.7,157.5 L495.5,157.7 L496.4,157.8 L497.0,158.4 L497.8,158.6 L498.7,158.9 L499.6,158.1 L500.4,158.0 L501.2,159.6 L502.0,160.3 L502.9,159.7 L503.8,158.9 L504.6,158.4 L505.6,158.5 L506.6,158.8 L507.5,159.0 L508.4,158.9 L509.2,158.0 L510.0,157.1 L510.8,157.1 L511.6,158.4 L512.4,158.1 L513.2,157.6 L514.1,157.7 L514.9,158.0 L515.7,158.6 L516.5,158.2" fill="none" stroke="#000" stroke-linejoin="round" stroke-linecap="round" stroke-width="2.1"/>
<path d="M353.6,164.4 L354.6,164.1 L355.8,164.4 L356.9,164.5 L357.3,163.8 L358.0,163.3" fill="none" stroke="#000" stroke-linejoin="round" stroke-linecap="round" stroke-width="2.6"/>
<path d="M379.7,33.6 L380.5,32.9 L381.2,33.5 L382.0,33.8" fill="none" stroke="#000" stroke-linejoin="round" stroke-linecap="round" stroke-width="2.6"/>
<path d="M426.3,145.2 L427.8,144.9 L428.8,145.1 L429.3,145.8 L429.9,146.6" fill="none" stroke="#000" stroke-linejoin="round" stroke-linecap="round" stroke-width="2.6"/>
<path d="M435.7,152.3 L436.3,153.0 L437.5,152.9 L438.5,153.1 L439.6,153.0 L440.4,153.4 L440.9,154.1 L441.8,153.7 L442.6,154.6 L443.5,154.7 L444.3,155.1 L445.2,154.9 L446.3,154.6 L446.7,155.8 L447.3,156.6 L448.0,157.3 L449.0,157.1 L449.4,158.3 L450.1,158.7 L451.4,158.4 L452.3,157.3 L453.1,157.5 L453.9,156.9 L454.7,156.4 L455.5,156.8 L456.3,156.8 L457.1,156.6 L458.0,157.3 L458.8,157.6 L459.6,157.1 L460.6,156.5 L461.5,156.4 L462.3,157.2 L463.1,157.3 L463.9,157.8 L464.8,157.8 L465.6,158.4 L466.4,159.1 L467.3,158.8 L468.2,158.3 L469.0,158.9 L469.8,158.8 L470.6,158.8 L471.5,158.6 L472.4,156.6 L473.3,156.6 L473.9,159.0 L474.7,159.9 L475.5,160.4 L476.3,160.3 L477.2,159.9 L478.0,158.9 L478.9,158.9 L479.7,159.1 L480.5,159.6 L481.3,159.8 L482.1,159.8 L482.9,160.3 L483.7,161.0 L484.6,159.3 L485.3,159.5 L485.9,159.1 L487.0,159.1 L487.8,158.8 L488.7,158.7 L489.4,158.3 L490.1,158.2 L490.9,157.7 L491.6,157.2 L492.3,156.6 L492.8,157.4 L493.3,158.4 L494.7,157.5 L495.5,157.7 L496.4,157.8 L497.0,158.4 L497.8,158.6 L498.7,158.9 L499.6,158.1 L500.4,158.0 L501.2,159.6 L502.0,160.3 L502.9,159.7 L503.8,158.9 L504.6,158.4 L505.6,158.5 L506.6,158.8 L507.5,159.0 L508.4,158.9 L509.2,158.0 L510.0,157.1 L510.8,157.1 L511.6,158.4 L512.4,158.1 L513.2,157.6 L514.1,157.7 L514.9,158.0 L515.7,158.6 L516.5,158.2" fill="none" stroke="#000" stroke-linejoin="round" stroke-linecap="round" stroke-width="2.6"/>
<path d="M354.0,166.6 L354.4,165.7 L354.9,164.5 L355.3,164.8 L355.8,166.5 L356.4,166.8 L356.9,166.8 L357.5,166.7 L358.1,166.3 L358.8,166.1 L359.4,165.1 L360.1,165.0 L360.8,164.9 L361.5,165.3 L362.2,165.4 L363.0,166.6 L363.7,166.8 L364.5,166.3 L365.3,166.3 L366.1,165.9 L367.0,165.0 L367.8,164.9 L368.7,165.3 L369.6,164.8 L370.4,164.1 L371.3,164.6 L372.2,165.2 L373.1,165.5 L374.0,165.7 L375.0,165.9 L375.9,165.8 L376.8,166.0 L377.8,165.7 L378.7,165.6 L379.6,166.1 L380.6,165.5 L381.5,165.0 L382.5,165.1 L383.4,165.5 L384.3,165.8 L385.3,165.8 L386.2,166.0 L387.1,165.5 L388.1,165.8 L389.0,166.4 L389.9,166.6 L390.8,166.2 L391.7,165.4 L392.6,165.1 L393.5,165.2 L394.3,165.7 L395.2,166.1 L396.0,165.5 L396.8,165.0 L397.7,164.6 L398.5,164.3 L399.2,165.1 L400.0,165.6 L400.9,165.5 L401.7,166.0 L402.6,166.3 L403.4,165.6 L404.3,166.0 L405.1,165.9 L406.0,165.6 L406.8,164.9 L407.7,165.1 L408.5,165.5 L409.4,165.7 L410.2,164.8 L411.1,164.8 L411.9,164.9 L412.8,165.4 L413.6,165.5 L414.4,164.9 L415.3,165.1 L416.1,165.0 L416.9,164.9 L417.7,165.9 L418.6,165.6 L419.4,165.1 L420.2,165.0 L421.0,166.1 L421.8,165.2 L422.6,165.0 L423.4,165.3 L424.2,165.1 L425.0,165.2 L425.8,165.0 L426.6,165.6 L427.4,165.9 L428.2,165.9 L428.9,165.6 L429.7,165.7 L430.5,165.2 L431.2,164.4 L432.0,164.4 L432.7,165.1 L433.5,165.8 L434.2,165.4 L435.0,166.1 L435.7,166.0 L436.4,165.7 L437.2,165.8 L437.9,164.1 L438.6,164.2 L439.3,164.3 L440.0,163.9 L440.9,163.7 L441.9,164.2 L442.8,164.2 L443.7,164.3 L444.6,165.4 L445.6,166.2 L446.5,166.3 L447.3,165.9 L448.2,165.0 L449.1,164.7 L450.0,164.7 L450.8,165.2 L451.7,165.1 L452.5,165.4 L453.4,165.3 L454.2,165.8 L455.0,165.2 L455.8,164.5 L456.6,163.9 L457.4,164.1 L458.3,165.1 L459.1,165.4 L459.8,165.6 L460.6,164.7 L461.4,165.6 L462.1,165.7 L462.9,165.2 L463.6,165.0 L464.4,165.1 L465.1,165.5 L465.8,165.4 L466.5,165.7 L467.3,165.7 L467.9,165.2 L468.6,165.2 L469.3,164.5 L470.0,164.2 L471.0,164.3 L471.9,164.7 L472.8,164.4 L473.7,165.1 L474.5,165.5 L475.3,164.6 L476.1,165.0 L476.9,165.4 L477.7,164.9 L478.4,164.8 L479.1,165.5 L479.9,164.7 L480.6,163.3 L481.3,164.0 L482.0,164.7 L482.7,164.4 L483.5,164.0 L484.2,164.7 L485.0,164.8 L485.7,165.2 L486.5,165.1 L487.4,164.1 L488.2,164.1 L489.1,164.7 L490.0,166.1 L490.7,166.8 L491.5,165.5 L492.3,164.8 L493.1,165.2 L493.9,165.1 L494.8,165.4 L495.7,165.2 L496.6,164.8 L497.5,164.6 L498.4,165.1 L499.3,165.3 L500.3,165.4 L501.2,166.3 L502.1,166.5 L503.1,165.9 L504.0,165.2 L505.0,165.3 L505.9,166.1 L506.8,165.8 L507.7,165.3 L508.5,165.2 L509.4,165.7 L510.2,166.0 L511.0,166.0 L511.8,165.5 L512.5,165.7 L513.2,165.7 L513.9,164.6 L514.5,164.5 L515.1,165.1 L515.6,165.2 L516.1,165.0 L516.5,165.1" fill="none" stroke="#000" stroke-linejoin="round" stroke-linecap="round" stroke-width="2.1"/>
<path d="M354.0,166.6 L354.4,165.7 L354.9,164.5 L355.3,164.8 L355.8,166.5 L356.4,166.8 L356.9,166.8 L357.5,166.7 L358.1,166.3 L358.8,166.1 L359.4,165.1 L360.1,165.0 L360.8,164.9 L361.5,165.3 L362.2,165.4 L363.0,166.6 L363.7,166.8 L364.5,166.3 L365.3,166.3 L366.1,165.9 L367.0,165.0 L367.8,164.9 L368.7,165.3 L369.6,164.8 L370.4,164.1 L371.3,164.6 L372.2,165.2 L373.1,165.5 L374.0,165.7 L375.0,165.9 L375.9,165.8 L376.8,166.0 L377.8,165.7 L378.7,165.6 L379.6,166.1 L380.6,165.5 L381.5,165.0 L382.5,165.1 L383.4,165.5 L384.3,165.8 L385.3,165.8 L386.2,166.0 L387.1,165.5 L388.1,165.8 L389.0,166.4 L389.9,166.6 L390.8,166.2 L391.7,165.4 L392.6,165.1 L393.5,165.2 L394.3,165.7 L395.2,166.1 L396.0,165.5 L396.8,165.0 L397.7,164.6 L398.5,164.3 L399.2,165.1 L400.0,165.6 L400.9,165.5 L401.7,166.0 L402.6,166.3 L403.4,165.6 L404.3,166.0 L405.1,165.9 L406.0,165.6 L406.8,164.9 L407.7,165.1 L408.5,165.5 L409.4,165.7 L410.2,164.8 L411.1,164.8 L411.9,164.9 L412.8,165.4 L413.6,165.5 L414.4,164.9 L415.3,165.1 L416.1,165.0 L416.9,164.9 L417.7,165.9 L418.6,165.6 L419.4,165.1 L420.2,165.0 L421.0,166.1 L421.8,165.2 L422.6,165.0 L423.4,165.3 L424.2,165.1 L425.0,165.2 L425.8,165.0 L426.6,165.6 L427.4,165.9 L428.2,165.9 L428.9,165.6 L429.7,165.7 L430.5,165.2 L431.2,164.4 L432.0,164.4 L432.7,165.1 L433.5,165.8 L434.2,165.4 L435.0,166.1 L435.7,166.0 L436.4,165.7 L437.2,165.8 L437.9,164.1 L438.6,164.2 L439.3,164.3 L440.0,163.9 L440.9,163.7 L441.9,164.2 L442.8,164.2 L443.7,164.3 L444.6,165.4 L445.6,166.2 L446.5,166.3 L447.3,165.9 L448.2,165.0 L449.1,164.7 L450.0,164.7 L450.8,165.2 L451.7,165.1 L452.5,165.4 L453.4,165.3 L454.2,165.8 L455.0,165.2 L455.8,164.5 L456.6,163.9 L457.4,164.1 L458.3,165.1 L459.1,165.4 L459.8,165.6 L460.6,164.7 L461.4,165.6 L462.1,165.7 L462.9,165.2 L463.6,165.0 L464.4,165.1 L465.1,165.5 L465.8,165.4 L466.5,165.7 L467.3,165.7 L467.9,165.2 L468.6,165.2 L469.3,164.5 L470.0,164.2 L471.0,164.3 L471.9,164.7 L472.8,164.4 L473.7,165.1 L474.5,165.5 L475.3,164.6 L476.1,165.0 L476.9,165.4 L477.7,164.9 L478.4,164.8 L479.1,165.5 L479.9,164.7 L480.6,163.3 L481.3,164.0 L482.0,164.7 L482.7,164.4 L483.5,164.0 L484.2,164.7 L485.0,164.8 L485.7,165.2 L486.5,165.1 L487.4,164.1 L488.2,164.1 L489.1,164.7 L490.0,166.1 L490.7,166.8 L491.5,165.5 L492.3,164.8 L493.1,165.2 L493.9,165.1 L494.8,165.4 L495.7,165.2 L496.6,164.8 L497.5,164.6 L498.4,165.1 L499.3,165.3 L500.3,165.4 L501.2,166.3 L502.1,166.5 L503.1,165.9 L504.0,165.2 L505.0,165.3 L505.9,166.1 L506.8,165.8 L507.7,165.3 L508.5,165.2 L509.4,165.7 L510.2,166.0 L511.0,166.0 L511.8,165.5 L512.5,165.7 L513.2,165.7 L513.9,164.6 L514.5,164.5 L515.1,165.1 L515.6,165.2 L516.1,165.0 L516.5,165.1" fill="none" stroke="#000" stroke-linejoin="round" stroke-linecap="round" stroke-width="2.6"/>
<text x="2.7" y="296.2" font-size="26" text-anchor="start" font-weight="bold" >C</text>
<text x="10.5" y="347.0" font-size="16" text-anchor="start" font-weight="normal" >ATP</text>
<text x="4.9" y="365.5" font-size="16" text-anchor="start" font-weight="normal" >50nM</text>
<line x1="56.8" y1="333.5" x2="56.8" y2="366.5" stroke="#000" stroke-width="2.7"/>
<line x1="160.1" y1="309.9" x2="183.2" y2="309.9" stroke="#000" stroke-width="2.4"/>
<text x="160.0" y="331.7" font-size="16" text-anchor="start" font-weight="normal" >20s</text>
<text x="179.8" y="370.5" font-size="16" text-anchor="start" font-weight="normal" >control</text>
<line x1="173.2" y1="367.1" x2="136.5" y2="371.1" stroke="#000" stroke-width="1.9"/><polygon points="128.0,372.1 137.1,367.6 137.9,374.5" fill="#000"/>
<text x="190.6" y="480.0" font-size="16" letter-spacing="0">PGI<tspan font-size="11.5" dx="0.6" dy="4">2</tspan></text>
<line x1="185.8" y1="467.9" x2="152.5" y2="448.9" stroke="#000" stroke-width="1.9"/><polygon points="145.2,444.6 155.2,446.3 151.7,452.4" fill="#000"/>
<line x1="82.0" y1="474.9" x2="82.0" y2="453.8" stroke="#000" stroke-width="1.9"/><polygon points="82.0,445.3 85.5,454.8 78.5,454.8" fill="#000"/>
<text x="58.2" y="492.3" font-size="16" text-anchor="start" font-weight="normal" >0.5<tspan font-style="italic">μ</tspan>gmL<tspan font-size="9.5" dx="0.6" dy="-5.2">-1</tspan></text>
<text x="58.2" y="510.0" font-size="16" text-anchor="start" font-weight="normal" >collagen</text>
<path d="M52.0,441.3 L52.8,441.4 L53.6,441.6 L54.4,440.3 L55.2,440.5 L56.0,441.1 L56.8,441.6 L57.6,442.5 L58.4,441.6 L59.2,441.2 L60.0,441.5 L60.8,442.3 L61.6,442.2 L62.4,440.4 L63.2,442.0 L64.0,441.9 L64.9,440.6 L65.7,441.0 L66.5,440.0 L67.4,439.0 L68.1,440.0 L68.9,440.9 L69.7,441.1 L70.4,442.2 L71.2,442.4 L72.1,441.5 L73.2,440.8 L74.1,441.0 L74.8,442.7 L75.8,442.3 L76.8,441.9 L77.8,441.9" fill="none" stroke="#000" stroke-linejoin="round" stroke-linecap="round" stroke-width="2.4"/>
<path d="M52.0,441.3 L52.8,441.4 L53.6,441.6 L54.4,440.3 L55.2,440.5 L56.0,441.1 L56.8,441.6 L57.6,442.5 L58.4,441.6 L59.2,441.2 L60.0,441.5 L60.8,442.3 L61.6,442.2 L62.4,440.4 L63.2,442.0 L64.0,441.9 L64.9,440.6 L65.7,441.0 L66.5,440.0 L67.4,439.0 L68.1,440.0 L68.9,440.9 L69.7,441.1 L70.4,442.2 L71.2,442.4 L72.1,441.5 L73.2,440.8 L74.1,441.0 L74.8,442.7 L75.8,442.3 L76.8,441.9 L77.8,441.9" fill="none" stroke="#000" stroke-linejoin="round" stroke-linecap="round" stroke-width="2.9"/>
<path d="M86.6,438.8 L87.3,439.4 L87.7,440.3 L88.1,441.1 L88.4,441.3 L88.3,441.6 L89.2,441.9 L90.2,441.1 L90.5,440.2 L90.6,439.4 L90.6,438.6 L90.3,437.7 L90.8,436.9 L90.6,436.0 L90.4,435.2 L90.4,434.3 L90.9,433.5 L90.8,432.6 L90.8,431.8 L90.5,430.9 L90.9,430.1 L90.6,429.2 L90.7,428.4 L90.8,427.5 L91.1,426.7 L91.0,425.8 L91.1,425.0 L91.1,424.2 L90.9,423.4 L91.3,422.6 L91.4,421.8 L90.7,420.9 L91.6,420.2 L91.9,419.4 L91.9,418.6 L92.3,417.8 L92.5,417.0 L91.6,416.2 L91.1,415.3 L91.7,414.6 L92.0,413.8 L91.9,413.0 L91.5,412.1 L91.5,411.3 L92.2,410.6 L92.5,409.8 L92.6,409.0 L92.6,408.2 L92.2,407.3 L92.0,406.5 L92.3,405.7 L92.1,404.9 L92.2,404.1 L92.3,403.3 L92.9,402.5 L93.1,401.7 L93.2,400.9 L93.7,400.2 L92.9,399.3 L92.8,398.5 L92.8,397.7 L92.8,396.8 L93.0,396.0 L93.1,395.1 L93.1,394.3 L93.0,393.4 L93.0,392.6 L93.0,391.7 L93.1,390.9 L93.2,390.1 L93.3,389.2 L93.3,388.4 L93.3,387.5 L93.4,386.7 L93.4,385.8 L93.5,385.0 L93.6,384.2 L93.4,383.3 L93.4,382.4 L93.5,381.6 L93.8,380.7 L93.9,379.9 L93.9,379.0 L94.1,378.2 L94.2,377.4 L94.3,376.6 L94.2,375.7 L94.3,374.9 L94.4,374.1 L94.6,373.3 L94.5,372.4 L94.6,371.6 L94.8,370.8 L94.9,370.0 L94.9,369.2 L95.0,368.3 L95.2,367.5 L95.2,366.7 L95.1,365.9 L95.2,365.1 L95.3,364.2 L95.2,363.4 L95.2,362.6 L95.4,361.8 L95.5,360.9 L95.5,360.1 L95.5,359.3 L95.7,358.5 L95.7,357.6 L95.5,356.8 L95.6,356.0 L95.7,355.2 L95.9,354.4 L95.7,353.5 L95.8,352.7 L95.8,351.9 L95.9,351.1 L96.2,350.2 L96.3,349.4 L96.3,348.6 L96.2,347.8 L96.4,347.0 L96.3,346.1 L96.4,345.3 L96.5,344.5 L96.6,343.7 L96.6,342.8 L96.6,342.0 L96.6,341.2 L96.7,340.4 L96.9,339.5 L96.9,338.7 L96.8,337.9 L97.0,337.0 L97.2,336.2 L97.3,335.4 L97.5,334.6 L97.6,333.8 L97.7,332.9 L97.6,332.1 L97.7,331.2 L97.8,330.4 L97.9,329.6 L97.7,328.8 L98.0,327.9 L97.9,327.1 L98.1,326.3 L98.1,325.5 L98.2,324.7 L98.4,323.8 L98.7,323.0 L98.7,322.2 L98.9,321.4 L98.8,320.6 L98.8,319.7 L99.0,318.9 L99.1,318.1 L99.2,317.3 L99.3,316.4 L99.9,315.6 L100.4,314.9 L100.4,314.0 L100.7,313.2 L100.9,312.3 L101.0,311.5 L101.1,310.7 L101.4,309.9 L101.7,309.1 L102.0,308.3 L102.5,307.6 L102.6,306.8 L102.6,305.9 L102.9,305.1 L102.9,304.3 L103.0,303.4 L103.4,302.7 L103.7,301.6 L104.2,302.6 L104.2,303.5 L104.6,304.3 L104.7,305.2 L105.1,306.0 L105.3,306.8 L105.5,307.6 L106.0,308.3 L106.4,309.1 L106.5,310.0 L106.8,310.8 L106.9,311.6 L106.9,312.5 L106.8,313.3 L107.1,314.1 L107.1,315.0 L107.6,315.7 L107.9,316.5 L108.3,317.2 L108.4,318.1 L108.5,318.9 L108.6,319.8 L108.7,320.6 L109.0,321.4 L109.4,322.2 L109.6,323.0 L109.8,323.8 L110.4,324.5 L110.6,325.3 L110.9,326.1 L111.0,327.0 L110.9,327.9 L110.9,328.7 L111.5,329.4 L111.3,330.3 L111.4,331.2 L111.6,332.0 L111.7,332.8 L112.1,333.6 L112.2,334.4 L112.3,335.3 L112.8,336.0 L113.2,336.8 L113.3,337.6 L113.1,338.5 L113.3,339.3 L113.5,340.1 L114.0,340.8 L114.3,341.5 L114.5,342.3 L114.6,343.1 L115.1,343.8 L115.2,344.6 L115.3,345.4 L115.7,346.2 L116.0,347.0 L115.8,347.9 L116.1,348.6 L116.4,349.4 L116.6,350.2 L116.4,351.1 L116.5,351.9 L116.8,352.7 L117.0,353.6 L117.1,354.4 L117.3,355.3 L117.6,356.1 L117.9,356.9 L118.2,357.7 L118.5,358.5 L118.6,359.4 L118.6,360.3 L119.0,361.1 L119.5,361.8 L119.8,362.5 L119.9,363.4 L120.0,364.3 L120.5,365.0 L121.0,365.6 L121.2,366.5 L121.7,367.2 L122.1,367.9 L122.1,368.8 L122.2,369.6 L122.6,370.4 L123.1,371.1 L123.4,371.9 L123.8,372.6 L124.0,373.4 L124.3,374.2 L124.4,375.0 L124.8,375.8 L125.2,376.5 L125.4,377.3 L125.5,378.1 L126.0,378.8 L126.3,379.6 L126.3,380.4 L126.4,381.2 L126.6,382.0 L126.9,382.7 L127.3,383.5 L127.5,384.2 L127.6,385.0 L128.2,385.7 L128.5,386.5 L128.6,387.3 L128.6,388.2 L128.9,389.1 L129.0,390.0 L129.3,390.9 L129.7,391.7 L130.1,392.6 L130.6,393.5 L131.1,394.4 L132.0,394.9 L132.4,395.7 L132.7,396.5 L133.2,397.1 L134.0,397.4 L134.8,397.8 L135.3,398.4 L135.5,399.2 L135.8,400.0 L135.7,400.9 L137.1,401.3 L137.2,402.1 L137.2,402.9 L137.3,403.8 L138.7,404.0 L138.8,405.0 L139.9,405.5 L139.8,406.5 L140.0,407.5 L140.5,407.8 L141.4,408.0 L142.1,409.0 L143.1,407.3 L144.2,407.6 L145.0,408.0 L145.8,407.6 L146.6,407.1 L148.0,408.7 L148.0,410.1 L147.7,411.2 L147.3,412.2 L148.4,412.7 L149.2,413.2 L150.2,413.8 L150.6,414.5 L150.1,415.5 L149.7,416.6 L150.1,417.3 L150.6,418.0 L152.2,416.9 L152.6,418.1 L153.3,418.5 L153.7,419.7 L154.1,420.8 L154.4,422.1 L155.4,422.3 L156.4,422.1 L157.6,422.0 L159.3,420.6 L160.0,421.4 L160.3,423.0 L161.1,423.4 L161.2,424.4 L161.7,425.0 L162.7,425.3 L162.4,426.5 L162.6,427.4 L164.4,427.0 L164.6,427.9 L165.2,428.4 L165.9,429.0 L166.8,428.8 L167.2,430.2 L168.1,430.4 L169.2,429.6 L170.4,428.2 L171.1,429.3 L171.5,431.4 L172.5,431.0 L173.4,430.9 L173.9,432.1 L174.9,431.7 L175.6,432.2 L176.4,432.6 L176.9,433.7 L178.3,431.8 L179.3,431.1 L180.0,432.2 L180.9,432.8 L182.0,431.5 L182.6,433.6 L183.3,434.9 L184.9,435.9 L185.0,433.1 L186.2,433.3 L187.0,432.9 L188.3,433.1 L189.5,433.3 L188.5,431.8 L189.5,431.1 L188.9,432.6 L188.8,433.7 L189.9,434.0 L191.4,434.0 L191.5,434.9 L191.3,436.0 L192.1,436.5 L192.9,436.8 L193.4,436.2 L193.7,435.2 L194.2,434.4 L194.6,433.6 L195.8,432.8 L196.9,434.4 L197.7,434.7 L198.6,434.7 L199.4,435.3 L200.6,434.1 L200.9,433.3 L201.4,433.9 L202.6,433.8 L202.4,432.5 L202.3,431.2 L203.4,431.2 L205.0,431.6 L206.0,431.3 L206.6,430.7 L206.5,430.1 L206.0,430.7 L206.3,431.5 L207.8,431.8 L209.0,432.2 L209.1,433.1 L207.8,434.4 L208.1,435.2 L208.2,436.1 L208.9,436.7 L209.4,437.4 L209.8,438.5 L210.8,437.7 L210.9,436.8 L211.2,436.0 L211.5,435.1 L212.6,434.9 L213.0,434.1 L213.5,433.4 L212.9,432.0 L214.1,432.0 L214.6,432.6 L215.2,433.3 L216.5,432.2 L217.3,432.4 L217.5,434.5 L218.3,434.7 L219.1,435.0 L220.3,435.1 L221.3,433.8 L222.0,432.5 L222.9,433.0 L223.7,432.8 L224.6,432.9 L225.4,432.5 L226.3,432.7 L227.4,434.4 L228.3,435.2 L228.9,432.8 L229.9,432.9 L229.8,434.3 L230.7,434.5 L231.3,435.2 L231.8,435.9 L232.3,436.6 L233.6,436.3 L234.1,436.7 L234.5,435.9 L235.6,436.3 L236.4,436.2 L237.9,437.8 L238.4,436.7 L238.4,434.6 L239.4,434.8 L239.9,436.2 L240.4,437.3 L241.6,436.2 L242.9,435.2 L243.6,435.7 L244.5,435.4 L244.7,437.7 L245.6,437.6" fill="none" stroke="#000" stroke-linejoin="round" stroke-linecap="round" stroke-width="2.1"/>
<path d="M88.1,441.1 L88.4,441.3 L88.3,441.6 L89.2,441.9" fill="none" stroke="#000" stroke-linejoin="round" stroke-linecap="round" stroke-width="2.6"/>
<path d="M140.5,407.8 L141.4,408.0 L142.1,409.0 L143.1,407.3 L144.2,407.6 L145.0,408.0 L145.8,407.6" fill="none" stroke="#000" stroke-linejoin="round" stroke-linecap="round" stroke-width="2.6"/>
<path d="M154.4,422.1 L155.4,422.3 L156.4,422.1 L157.6,422.0 L159.3,420.6 L160.0,421.4 L160.3,423.0" fill="none" stroke="#000" stroke-linejoin="round" stroke-linecap="round" stroke-width="2.6"/>
<path d="M165.9,429.0 L166.8,428.8 L167.2,430.2 L168.1,430.4 L169.2,429.6 L170.4,428.2 L171.1,429.3 L171.5,431.4 L172.5,431.0" fill="none" stroke="#000" stroke-linejoin="round" stroke-linecap="round" stroke-width="2.6"/>
<path d="M174.9,431.7 L175.6,432.2 L176.4,432.6 L176.9,433.7 L178.3,431.8 L179.3,431.1 L180.0,432.2 L180.9,432.8 L182.0,431.5 L182.6,433.6 L183.3,434.9 L184.9,435.9 L185.0,433.1 L186.2,433.3 L187.0,432.9" fill="none" stroke="#000" stroke-linejoin="round" stroke-linecap="round" stroke-width="2.6"/>
<path d="M189.5,433.3 L188.5,431.8 L189.5,431.1 L188.9,432.6" fill="none" stroke="#000" stroke-linejoin="round" stroke-linecap="round" stroke-width="2.6"/>
<path d="M191.3,436.0 L192.1,436.5 L192.9,436.8 L193.4,436.2 L193.7,435.2 L194.2,434.4 L194.6,433.6 L195.8,432.8 L196.9,434.4 L197.7,434.7 L198.6,434.7 L199.4,435.3 L200.6,434.1" fill="none" stroke="#000" stroke-linejoin="round" stroke-linecap="round" stroke-width="2.6"/>
<path d="M206.0,431.3 L206.6,430.7 L206.5,430.1 L206.0,430.7" fill="none" stroke="#000" stroke-linejoin="round" stroke-linecap="round" stroke-width="2.6"/>
<path d="M209.4,437.4 L209.8,438.5 L210.8,437.7 L210.9,436.8" fill="none" stroke="#000" stroke-linejoin="round" stroke-linecap="round" stroke-width="2.6"/>
<path d="M213.5,433.4 L212.9,432.0 L214.1,432.0 L214.6,432.6 L215.2,433.3 L216.5,432.2 L217.3,432.4 L217.5,434.5 L218.3,434.7 L219.1,435.0 L220.3,435.1 L221.3,433.8 L222.0,432.5 L222.9,433.0 L223.7,432.8 L224.6,432.9 L225.4,432.5 L226.3,432.7 L227.4,434.4 L228.3,435.2 L228.9,432.8 L229.9,432.9 L229.8,434.3 L230.7,434.5" fill="none" stroke="#000" stroke-linejoin="round" stroke-linecap="round" stroke-width="2.6"/>
<path d="M231.8,435.9 L232.3,436.6 L233.6,436.3 L234.1,436.7 L234.5,435.9 L235.6,436.3 L236.4,436.2 L237.9,437.8 L238.4,436.7 L238.4,434.6 L239.4,434.8 L239.9,436.2 L240.4,437.3 L241.6,436.2 L242.9,435.2 L243.6,435.7 L244.5,435.4 L244.7,437.7" fill="none" stroke="#000" stroke-linejoin="round" stroke-linecap="round" stroke-width="2.6"/>
<path d="M88.7,442.8 L89.7,442.1 L90.4,441.5 L91.6,441.6 L92.7,441.2 L92.9,440.2 L93.5,439.5 L93.7,438.5 L93.7,437.6 L93.5,436.7 L93.5,435.8 L94.7,435.3 L95.3,434.7 L96.3,434.1 L96.2,433.2 L95.7,432.2 L96.0,431.3 L96.4,430.5 L96.8,429.7 L96.9,428.8 L97.0,428.0 L96.8,427.0 L97.2,426.2 L97.9,425.5 L97.9,424.6 L97.8,423.7 L98.3,423.0 L98.3,422.1 L98.8,421.4 L98.7,420.5 L98.9,419.7 L99.3,418.9 L98.9,417.8 L99.5,417.1 L99.9,416.3 L100.7,415.7 L101.4,415.0 L101.6,414.2 L102.0,413.5 L101.9,412.6 L102.3,411.9 L103.1,411.3 L103.0,410.4 L102.4,409.3 L102.9,408.6 L103.6,407.9 L104.0,407.1 L104.8,406.4 L104.6,405.2 L104.3,404.0 L105.4,403.4 L106.4,402.8 L106.6,402.0 L107.9,401.9 L108.7,402.5 L108.9,403.8 L109.4,404.5 L110.4,404.8 L111.4,404.9 L111.8,405.8 L112.1,406.7 L112.7,407.3 L113.6,407.9 L113.0,409.3 L113.8,409.9 L115.0,410.2 L116.0,410.6 L115.9,411.7 L116.4,412.4 L116.9,413.1 L117.0,414.1 L117.8,414.5 L118.8,414.8 L119.4,415.4 L119.7,416.3 L119.5,417.4 L120.1,418.1 L120.8,418.7 L120.9,419.8 L121.1,420.7 L121.7,421.4 L122.4,422.1 L123.2,422.6 L123.5,423.4 L123.8,424.3 L124.4,424.8 L125.0,425.5 L125.5,426.1 L126.2,426.7 L126.6,427.4 L126.7,428.5 L126.8,429.8 L127.8,429.9 L128.3,430.8 L129.3,430.9 L130.8,430.4 L131.1,431.2 L132.0,431.3 L132.9,431.1 L133.7,430.8 L133.6,430.1 L134.1,430.3 L134.2,431.1 L134.3,432.0 L134.5,432.8 L134.4,433.7 L135.1,434.4 L135.8,435.1 L136.2,435.8 L136.0,436.8 L136.1,438.1 L137.4,438.8 L138.3,437.8 L139.2,437.0 L140.1,437.3 L141.1,436.8 L141.9,437.5 L142.8,437.7 L143.8,437.7 L144.6,439.0 L145.4,437.6 L146.3,438.0 L147.2,438.1 L148.0,436.6 L148.9,437.5 L149.7,438.3 L150.6,437.8 L151.4,438.3 L152.1,439.3 L153.1,438.4 L153.8,439.0 L154.7,438.8 L155.4,439.7 L156.1,440.2 L156.9,440.4 L157.7,440.6 L158.7,440.2 L159.6,439.8 L160.5,439.3 L161.3,439.7 L162.0,441.0 L162.8,441.6 L163.6,440.3 L164.4,439.2 L165.2,440.0 L166.0,441.0 L166.9,440.3 L167.7,440.8 L168.5,441.3 L169.3,441.1 L170.1,440.1 L170.9,439.3 L171.7,440.0 L172.6,440.1 L173.1,441.7 L173.9,442.1 L174.9,441.4 L175.7,441.1 L176.7,440.6 L177.4,440.8 L178.3,440.7 L179.0,441.5 L179.8,441.5 L180.5,442.8 L181.5,441.7 L182.3,442.1 L183.3,442.9 L184.0,441.9 L184.8,441.5 L185.7,441.4 L186.5,441.3 L187.4,441.1 L188.2,440.3 L189.1,440.8 L190.0,441.8 L190.8,441.4 L191.6,441.3 L192.5,440.7 L193.4,441.0 L194.4,439.7 L195.4,438.4 L196.1,439.0 L196.6,442.0 L197.6,441.3 L198.4,441.5 L199.2,442.5 L200.1,442.7 L200.9,442.5 L201.5,440.9 L202.4,440.8 L203.1,440.4 L204.1,441.1 L205.0,441.7 L205.8,441.4 L206.6,441.5 L207.4,441.2 L208.2,441.2 L209.0,440.7 L209.8,440.6 L210.7,440.1 L211.4,440.7 L212.3,440.4 L213.1,440.8 L213.9,441.3 L214.7,441.1 L215.5,441.5 L216.4,440.5 L217.3,440.5 L217.8,442.8 L218.6,442.7 L219.6,441.9 L220.3,443.0 L221.3,441.5 L222.1,442.7 L222.9,442.5 L223.8,442.3 L224.6,442.4 L225.5,442.4 L226.3,443.2 L227.2,442.2 L228.0,442.5 L228.8,443.1 L229.7,443.4 L230.5,443.6 L231.4,443.0 L232.3,441.8 L233.1,442.3 L233.8,441.7 L234.6,441.8 L235.4,441.7 L236.2,442.1 L236.8,440.5 L237.8,441.4 L238.7,442.5 L239.6,442.7 L240.3,442.0 L240.9,440.6 L241.7,440.6 L242.6,441.0 L243.3,440.5 L244.2,440.8 L245.0,441.2 L245.8,441.1" fill="none" stroke="#000" stroke-linejoin="round" stroke-linecap="round" stroke-width="2.1"/>
<path d="M106.4,402.8 L106.6,402.0 L107.9,401.9 L108.7,402.5 L108.9,403.8" fill="none" stroke="#000" stroke-linejoin="round" stroke-linecap="round" stroke-width="2.6"/>
<path d="M129.3,430.9 L130.8,430.4 L131.1,431.2 L132.0,431.3 L132.9,431.1 L133.7,430.8 L133.6,430.1" fill="none" stroke="#000" stroke-linejoin="round" stroke-linecap="round" stroke-width="2.6"/>
<path d="M136.1,438.1 L137.4,438.8 L138.3,437.8 L139.2,437.0 L140.1,437.3 L141.1,436.8 L141.9,437.5 L142.8,437.7 L143.8,437.7 L144.6,439.0 L145.4,437.6 L146.3,438.0 L147.2,438.1 L148.0,436.6 L148.9,437.5 L149.7,438.3 L150.6,437.8 L151.4,438.3 L152.1,439.3 L153.1,438.4 L153.8,439.0 L154.7,438.8 L155.4,439.7 L156.1,440.2 L156.9,440.4 L157.7,440.6 L158.7,440.2 L159.6,439.8 L160.5,439.3 L161.3,439.7 L162.0,441.0 L162.8,441.6 L163.6,440.3 L164.4,439.2 L165.2,440.0 L166.0,441.0 L166.9,440.3 L167.7,440.8 L168.5,441.3 L169.3,441.1 L170.1,440.1 L170.9,439.3 L171.7,440.0 L172.6,440.1 L173.1,441.7 L173.9,442.1 L174.9,441.4 L175.7,441.1 L176.7,440.6 L177.4,440.8 L178.3,440.7 L179.0,441.5 L179.8,441.5 L180.5,442.8 L181.5,441.7 L182.3,442.1 L183.3,442.9 L184.0,441.9 L184.8,441.5 L185.7,441.4 L186.5,441.3 L187.4,441.1 L188.2,440.3 L189.1,440.8 L190.0,441.8 L190.8,441.4 L191.6,441.3 L192.5,440.7 L193.4,441.0 L194.4,439.7 L195.4,438.4 L196.1,439.0 L196.6,442.0 L197.6,441.3 L198.4,441.5 L199.2,442.5 L200.1,442.7 L200.9,442.5 L201.5,440.9 L202.4,440.8 L203.1,440.4 L204.1,441.1 L205.0,441.7 L205.8,441.4 L206.6,441.5 L207.4,441.2 L208.2,441.2 L209.0,440.7 L209.8,440.6 L210.7,440.1 L211.4,440.7 L212.3,440.4 L213.1,440.8 L213.9,441.3 L214.7,441.1 L215.5,441.5 L216.4,440.5 L217.3,440.5 L217.8,442.8 L218.6,442.7 L219.6,441.9 L220.3,443.0 L221.3,441.5 L222.1,442.7 L222.9,442.5 L223.8,442.3 L224.6,442.4 L225.5,442.4 L226.3,443.2 L227.2,442.2 L228.0,442.5 L228.8,443.1 L229.7,443.4 L230.5,443.6 L231.4,443.0 L232.3,441.8 L233.1,442.3 L233.8,441.7 L234.6,441.8 L235.4,441.7 L236.2,442.1 L236.8,440.5 L237.8,441.4 L238.7,442.5 L239.6,442.7 L240.3,442.0 L240.9,440.6 L241.7,440.6 L242.6,441.0 L243.3,440.5 L244.2,440.8 L245.0,441.2 L245.8,441.1" fill="none" stroke="#000" stroke-linejoin="round" stroke-linecap="round" stroke-width="2.6"/>
<text x="273.7" y="296.4" font-size="26" text-anchor="start" font-weight="bold" >D</text>
<text x="280.2" y="342.0" font-size="16" text-anchor="start" font-weight="normal" >ATP</text>
<text x="270.3" y="362.0" font-size="16" text-anchor="start" font-weight="normal" >100nM</text>
<line x1="327.3" y1="324.5" x2="327.3" y2="370.0" stroke="#000" stroke-width="2.7"/>
<line x1="442.0" y1="316.3" x2="465.4" y2="316.3" stroke="#000" stroke-width="2.4"/>
<text x="442.5" y="336.0" font-size="16" text-anchor="start" font-weight="normal" >20s</text>
<text x="457.0" y="371.2" font-size="16" text-anchor="start" font-weight="normal" >control</text>
<line x1="450.5" y1="369.7" x2="423.1" y2="378.6" stroke="#000" stroke-width="1.9"/><polygon points="415.0,381.2 423.0,375.0 425.1,381.6" fill="#000"/>
<text x="452.4" y="477.9" font-size="16" letter-spacing="0">PGI<tspan font-size="11.5" dx="0.6" dy="4">2</tspan></text>
<line x1="448.3" y1="462.5" x2="409.3" y2="434.1" stroke="#000" stroke-width="1.9"/><polygon points="402.4,429.1 412.2,431.8 408.0,437.5" fill="#000"/>
<line x1="358.0" y1="476.9" x2="358.0" y2="458.0" stroke="#000" stroke-width="1.9"/><polygon points="358.0,449.5 361.5,459.0 354.5,459.0" fill="#000"/>
<text x="335.8" y="496.0" font-size="16" text-anchor="start" font-weight="normal" >10<tspan font-style="italic">μ</tspan>gmL<tspan font-size="9.5" dx="0.6" dy="-5.2">-1</tspan></text>
<text x="335.8" y="516" font-size="16">Pam<tspan font-size="11" dy="4">3</tspan><tspan dy="-4">CSK</tspan><tspan font-size="11" dy="4">4</tspan></text>
<path d="M323.0,443.7 L323.5,443.6 L324.0,444.1 L324.6,444.2 L325.3,444.2 L326.1,444.5 L326.9,445.3 L327.8,445.4 L328.7,444.7 L329.6,444.5 L330.6,443.9 L331.5,443.5 L332.5,444.3 L333.5,444.2 L334.4,443.5 L335.4,444.0 L336.3,443.9 L337.2,443.6 L338.0,444.3 L338.9,444.0 L339.8,443.6 L340.7,443.5 L341.7,444.2 L342.7,444.5 L343.7,444.0 L344.6,443.2 L345.6,444.1 L346.6,445.4 L347.5,445.1 L348.3,444.5 L349.2,444.0 L349.9,443.5 L350.6,443.9 L351.3,444.6 L351.8,445.1 L352.3,445.1" fill="none" stroke="#000" stroke-linejoin="round" stroke-linecap="round" stroke-width="2.1"/>
<path d="M323.0,443.7 L323.5,443.6 L324.0,444.1 L324.6,444.2 L325.3,444.2 L326.1,444.5 L326.9,445.3 L327.8,445.4 L328.7,444.7 L329.6,444.5 L330.6,443.9 L331.5,443.5 L332.5,444.3 L333.5,444.2 L334.4,443.5 L335.4,444.0 L336.3,443.9 L337.2,443.6 L338.0,444.3 L338.9,444.0 L339.8,443.6 L340.7,443.5 L341.7,444.2 L342.7,444.5 L343.7,444.0 L344.6,443.2 L345.6,444.1 L346.6,445.4 L347.5,445.1 L348.3,444.5 L349.2,444.0 L349.9,443.5 L350.6,443.9 L351.3,444.6 L351.8,445.1" fill="none" stroke="#000" stroke-linejoin="round" stroke-linecap="round" stroke-width="2.5"/>
<path d="M363.6,445.3 L364.4,444.8 L365.2,444.2 L365.4,443.2 L365.9,442.5 L366.4,441.8 L366.9,441.1 L367.4,440.5 L367.7,439.8 L368.1,439.1 L368.5,438.3 L368.6,437.4 L368.8,436.5 L368.9,435.7 L369.2,434.8 L369.3,433.9 L369.6,433.1 L369.7,432.3 L369.9,431.5 L370.1,430.7 L370.2,429.8 L370.4,429.0 L370.6,428.2 L370.7,427.4 L370.8,426.5 L371.0,425.7 L371.3,425.0 L371.5,423.9 L371.7,422.9 L372.3,422.0 L372.6,421.2 L372.7,420.4 L372.8,419.6 L373.1,418.8 L373.4,418.0 L373.5,417.2 L373.8,416.4 L374.0,415.6 L374.0,414.8 L374.0,414.0 L374.3,413.2 L374.7,412.4 L374.8,411.6 L374.7,410.8 L374.8,410.0 L374.8,409.1 L375.0,408.4 L375.2,407.6 L375.4,406.8 L375.6,406.0 L375.8,405.2 L375.9,404.4 L376.1,403.6 L376.3,402.8 L376.1,401.9 L376.3,401.1 L376.4,400.3 L376.5,399.5 L376.5,398.7 L376.5,397.9 L376.8,397.0 L376.8,396.2 L376.8,395.4 L376.9,394.5 L376.9,393.7 L377.0,392.9 L377.1,392.1 L377.1,391.2 L377.2,390.4 L377.4,389.6 L377.6,388.8 L377.8,387.9 L377.7,387.1 L377.9,386.3 L378.2,385.5 L378.2,384.6 L378.1,383.7 L378.4,382.9 L378.6,382.1 L378.5,381.3 L378.6,380.4 L378.8,379.6 L378.8,378.7 L379.2,378.0 L379.3,377.1 L379.5,376.3 L379.4,375.4 L379.6,374.6 L380.0,373.8 L380.3,373.0 L380.5,372.2 L380.4,371.3 L380.4,370.4 L380.9,369.7 L381.2,368.8 L381.0,368.0 L381.2,367.2 L381.4,366.3 L381.4,365.5 L381.5,364.7 L381.7,363.9 L381.8,363.0 L382.0,362.2 L382.1,361.4 L382.0,360.5 L382.2,359.7 L382.4,358.9 L382.6,358.1 L382.8,357.3 L382.9,356.5 L383.4,355.8 L383.7,355.1 L384.1,354.4 L384.0,353.5 L384.1,352.7 L384.2,351.9 L384.7,351.2 L385.1,350.4 L384.9,349.6 L384.9,348.8 L385.1,348.0 L385.4,347.2 L385.5,346.4 L385.6,345.6 L385.9,344.9 L386.1,344.1 L386.3,343.3 L386.5,342.5 L386.8,341.8 L386.9,340.9 L386.8,340.1 L387.2,339.4 L387.8,338.7 L388.0,337.9 L388.3,337.1 L388.6,336.3 L388.8,335.4 L389.1,334.6 L389.2,333.8 L389.3,332.9 L389.2,332.0 L389.5,331.2 L389.7,330.3 L390.0,329.5 L390.3,328.6 L390.9,327.9 L391.3,327.3 L392.4,326.8 L392.7,326.1 L393.1,325.3 L393.9,324.7 L394.5,324.0 L394.7,323.2 L395.1,323.9 L395.3,324.6 L395.4,325.5 L395.6,326.4 L395.9,327.1 L396.3,327.9 L397.0,328.5 L397.1,329.3 L397.3,330.1 L397.4,330.9 L397.6,331.7 L398.0,332.5 L398.3,333.3 L398.6,334.1 L398.8,334.8 L398.9,335.7 L399.0,336.5 L399.1,337.3 L399.2,338.1 L399.3,338.9 L399.6,339.7 L399.7,340.5 L400.0,341.2 L400.2,342.0 L400.3,342.8 L400.6,343.6 L400.7,344.4 L400.8,345.2 L401.0,346.0 L401.3,346.8 L401.4,347.6 L401.7,348.4 L402.1,349.1 L402.2,350.0 L402.3,350.8 L402.6,351.6 L402.9,352.3 L403.2,353.1 L403.3,354.0 L403.3,354.8 L403.7,355.6 L404.1,356.4 L404.3,357.2 L404.6,358.0 L404.6,358.9 L405.0,359.7 L405.3,360.5 L405.5,361.3 L406.0,362.0 L406.0,362.9 L406.2,363.8 L406.4,364.6 L406.7,365.4 L407.1,366.2 L407.3,367.0 L407.5,367.8 L408.0,368.6 L408.1,369.4 L408.7,370.1 L408.7,371.0 L409.2,371.8 L409.4,372.6 L409.6,373.4 L409.7,374.3 L409.8,375.1 L410.1,375.9 L410.6,376.7 L410.8,377.5 L411.1,378.3 L411.6,379.0 L412.0,379.7 L412.1,380.5 L412.6,381.2 L412.8,381.9 L413.3,382.6 L413.7,383.3 L413.6,384.2 L413.5,385.1 L413.8,385.9 L413.9,386.7 L414.2,387.5 L414.6,388.3 L414.8,389.2 L414.9,390.0 L415.0,390.9 L415.1,391.7 L415.3,392.5 L415.6,393.3 L416.2,394.0 L416.5,394.7 L416.4,395.6 L416.7,396.3 L416.8,397.1 L416.9,398.0 L417.0,398.8 L417.6,399.5 L417.6,400.3 L418.0,401.1 L418.2,401.9 L418.6,402.6 L418.9,403.4 L419.2,404.1 L419.2,405.0 L419.7,405.7 L420.2,406.4 L420.5,407.2 L420.8,408.0 L421.3,408.7 L421.8,409.4 L422.1,410.3 L422.7,410.9 L423.1,411.7 L423.5,412.5 L423.8,413.2 L423.8,414.1 L424.5,414.7 L425.0,415.4 L425.2,416.3 L426.0,416.8 L426.5,417.4 L426.8,418.4 L426.8,419.5 L427.0,420.5 L427.6,421.3 L428.0,422.0 L428.6,422.6 L429.2,423.1 L429.5,423.8 L429.8,424.7 L430.5,425.2 L431.3,425.6 L431.9,426.2 L432.6,426.7 L432.7,427.9 L433.6,428.3 L434.6,428.2 L435.4,428.5 L436.1,429.1 L437.0,429.2 L437.7,429.8 L438.6,429.9 L439.3,430.5 L440.0,431.1 L440.8,431.0 L441.7,430.8 L442.4,431.4 L443.2,431.5 L443.9,431.9 L444.7,432.1 L445.2,433.2 L445.9,433.6 L446.8,433.5 L447.7,433.1 L448.5,433.4 L449.2,433.7 L450.1,433.6 L451.0,433.6 L451.7,434.2 L452.4,434.9 L453.3,435.0 L454.2,435.0 L454.9,435.7 L455.6,436.1 L456.6,435.6 L457.6,435.4 L458.4,435.8 L459.1,436.3 L459.9,436.7 L460.8,436.4 L461.7,436.4 L462.4,437.4 L463.2,437.9 L464.1,437.3 L465.1,436.7 L465.9,436.6 L466.7,437.0 L467.5,437.6 L468.3,437.7 L469.1,438.3 L469.9,438.5 L470.8,438.3 L471.7,438.0 L472.5,438.0 L473.3,438.3 L474.1,438.9 L475.0,438.5 L475.8,438.5 L476.6,439.1 L477.5,438.7 L478.3,438.7 L479.2,438.6 L480.0,438.4 L480.9,438.0 L481.7,438.2 L482.5,439.1 L483.3,439.5 L484.2,439.3 L485.0,439.7 L485.8,439.8 L486.7,439.0 L487.5,438.9 L488.4,439.1 L489.1,439.8 L490.0,440.4 L490.8,440.9 L491.7,440.3 L492.5,438.9 L493.3,438.9 L494.2,439.5 L495.0,439.9 L495.8,439.9 L496.7,439.7 L497.5,439.7 L498.3,439.3 L499.2,439.6 L500.0,439.7 L500.9,439.8 L501.7,440.0 L502.6,439.9 L503.4,439.7 L504.3,439.7 L505.2,439.9 L506.0,440.0" fill="none" stroke="#000" stroke-linejoin="round" stroke-linecap="round" stroke-width="1.9"/>
<path d="M363.4,445.1 L364.2,444.6 L365.3,444.3 L365.6,443.4 L366.1,442.5 L366.4,441.6 L367.0,440.8 L367.5,440.0 L368.5,439.5 L369.5,439.1 L370.3,438.5 L370.9,437.8 L371.4,436.9 L372.1,436.3 L373.1,436.1 L374.1,435.9 L374.7,435.3 L375.2,434.6 L375.8,433.9 L376.4,433.3 L377.2,432.9 L377.5,432.0 L378.1,431.3 L378.7,430.6 L379.3,430.0 L380.2,429.8 L380.7,429.0 L381.6,428.8 L382.2,428.3 L383.0,427.8 L383.8,427.6 L384.4,426.9 L385.0,426.3 L385.8,425.8 L386.8,425.6 L387.8,425.4 L388.7,424.9 L389.6,424.6 L390.5,424.6 L391.4,424.5 L391.9,423.7 L392.6,423.2 L393.4,422.9 L394.2,422.6 L395.0,422.6 L395.7,422.1 L396.5,421.5 L397.3,420.8 L398.2,421.3 L399.1,421.5 L400.0,421.8 L400.9,421.7 L401.8,421.5 L402.7,421.7 L403.5,421.4 L404.5,422.0 L405.1,421.8 L405.9,421.8 L406.7,422.1 L407.6,422.3 L408.6,422.0 L409.5,422.1 L410.5,421.7 L411.4,421.7 L412.3,421.6 L413.1,422.1 L413.9,422.6 L414.7,423.0 L415.8,422.4 L416.6,422.7 L417.3,423.5 L418.2,423.7 L419.1,423.7 L419.8,424.4 L420.7,424.6 L421.5,424.8 L422.4,424.7 L423.4,424.1 L424.2,424.4 L425.0,425.0 L425.8,425.4 L426.6,425.3 L427.4,425.6 L428.3,425.5 L429.1,425.7 L430.1,425.0 L430.9,425.5 L431.6,426.1 L432.6,425.9 L433.4,426.3 L434.1,426.8 L434.9,427.1 L435.9,426.8 L436.7,427.3 L437.5,427.5 L438.4,427.3 L439.2,427.8 L440.0,428.0 L440.8,428.5 L441.8,427.8 L442.7,427.7 L443.5,428.3 L444.2,429.0 L445.0,429.3 L445.9,429.4 L446.7,429.8 L447.5,430.1 L448.2,430.5 L449.2,430.3 L450.1,430.3 L450.6,431.5 L451.5,431.6 L452.4,431.6 L453.4,431.1 L454.2,431.2 L454.9,431.9 L455.7,432.3 L456.5,432.6 L457.5,432.3 L458.3,432.4 L459.1,433.0 L459.9,433.2 L460.9,432.6 L461.8,432.6 L462.6,432.9 L463.3,433.9 L464.0,434.7 L465.0,434.0 L465.9,433.8 L466.8,433.7 L467.7,433.5 L468.3,434.5 L469.1,435.1 L469.9,435.2 L470.9,434.6 L471.7,434.6 L472.5,434.9 L473.3,435.7 L474.2,435.3 L475.1,435.1 L475.8,435.9 L476.6,435.9 L477.5,435.9 L478.4,435.7 L479.3,435.2 L480.1,435.4 L480.9,435.9 L481.7,436.0 L482.5,436.1 L483.4,436.1 L484.1,437.1 L485.0,436.8 L485.8,437.0 L486.6,437.2 L487.5,436.6 L488.3,436.5 L489.2,436.9 L490.0,436.9 L490.8,436.6 L491.7,436.6 L492.5,436.1 L493.3,436.2 L494.2,436.3 L495.0,436.6 L495.8,436.7 L496.7,436.6 L497.5,436.6 L498.3,436.7 L499.2,437.0 L500.0,437.2 L500.9,437.3 L501.7,437.3 L502.6,437.3 L503.4,437.0 L504.3,436.6 L505.1,436.5 L506.0,435.9" fill="none" stroke="#000" stroke-linejoin="round" stroke-linecap="round" stroke-width="1.9"/>
<text x="134.6" y="582.9" font-size="26" text-anchor="start" font-weight="bold" >E</text>
<line x1="237.5" y1="585.8" x2="237.5" y2="755.5" stroke="#000" stroke-width="1.6"/>
<line x1="233" y1="586.5" x2="237.5" y2="586.5" stroke="#000" stroke-width="1.6"/>
<line x1="233" y1="670.6" x2="237.5" y2="670.6" stroke="#000" stroke-width="1.6"/>
<line x1="233" y1="754.8" x2="237.5" y2="754.8" stroke="#000" stroke-width="1.6"/>
<line x1="233" y1="754.8" x2="418.3" y2="754.8" stroke="#000" stroke-width="1.6"/>
<line x1="237.5" y1="754.8" x2="237.5" y2="759.4" stroke="#000" stroke-width="1.6"/>
<line x1="267.5" y1="754.8" x2="267.5" y2="759.4" stroke="#000" stroke-width="1.6"/>
<line x1="297.5" y1="754.8" x2="297.5" y2="759.4" stroke="#000" stroke-width="1.6"/>
<line x1="327.5" y1="754.8" x2="327.5" y2="759.4" stroke="#000" stroke-width="1.6"/>
<line x1="357.5" y1="754.8" x2="357.5" y2="759.4" stroke="#000" stroke-width="1.6"/>
<line x1="387.5" y1="754.8" x2="387.5" y2="759.4" stroke="#000" stroke-width="1.6"/>
<line x1="417.5" y1="754.8" x2="417.5" y2="759.4" stroke="#000" stroke-width="1.6"/>
<rect x="240.1" y="614.6" width="24.9" height="140.2" fill="#000"/>
<rect x="269.6" y="752.8" width="25.6" height="2.0" fill="#000"/>
<rect x="299.6" y="752.5" width="25.6" height="2.3" fill="#000"/>
<rect x="330.4" y="704.9" width="25.6" height="49.9" fill="#000"/>
<rect x="360.4" y="669.6" width="25.6" height="85.2" fill="#000"/>
<rect x="390.4" y="735.9" width="25.6" height="18.9" fill="#000"/>
<path d="M248.5,614.6 L249.5,614 L255.5,614 L256.5,614.6" fill="none" stroke="#000" stroke-width="1.3"/>
<path d="M277,752.6 L279,752.1 L286,752.1 L288,752.6" fill="none" stroke="#000" stroke-width="1.4"/>
<path d="M307,752.4 L309,751.7 L316,751.7 L318,752.4" fill="none" stroke="#000" stroke-width="1.4"/>
<line x1="342.8" y1="687.4" x2="342.8" y2="705.9" stroke="#000" stroke-width="1.8"/><line x1="338.8" y1="687.4" x2="346.8" y2="687.4" stroke="#000" stroke-width="1.8"/>
<line x1="372.8" y1="662.0" x2="372.8" y2="670.6" stroke="#000" stroke-width="1.8"/><line x1="368.8" y1="662.0" x2="376.8" y2="662.0" stroke="#000" stroke-width="1.8"/>
<line x1="403.0" y1="733.5" x2="403.0" y2="736.9" stroke="#000" stroke-width="1.8"/><line x1="399.0" y1="733.5" x2="407.0" y2="733.5" stroke="#000" stroke-width="1.8"/>
<polygon points="276.60,737.45 277.31,739.33 279.31,739.42 277.74,740.67 278.28,742.61 276.60,741.50 274.92,742.61 275.46,740.67 273.89,739.42 275.89,739.33" fill="#000"/><polygon points="282.60,737.45 283.31,739.33 285.31,739.42 283.74,740.67 284.28,742.61 282.60,741.50 280.92,742.61 281.46,740.67 279.89,739.42 281.89,739.33" fill="#000"/><polygon points="288.60,737.45 289.31,739.33 291.31,739.42 289.74,740.67 290.28,742.61 288.60,741.50 286.92,742.61 287.46,740.67 285.89,739.42 287.89,739.33" fill="#000"/>
<polygon points="307.00,737.45 307.71,739.33 309.71,739.42 308.14,740.67 308.68,742.61 307.00,741.50 305.32,742.61 305.86,740.67 304.29,739.42 306.29,739.33" fill="#000"/><polygon points="313.00,737.45 313.71,739.33 315.71,739.42 314.14,740.67 314.68,742.61 313.00,741.50 311.32,742.61 311.86,740.67 310.29,739.42 312.29,739.33" fill="#000"/><polygon points="319.00,737.45 319.71,739.33 321.71,739.42 320.14,740.67 320.68,742.61 319.00,741.50 317.32,742.61 317.86,740.67 316.29,739.42 318.29,739.33" fill="#000"/>
<polygon points="342.90,673.75 343.61,675.63 345.61,675.72 344.04,676.97 344.58,678.91 342.90,677.80 341.22,678.91 341.76,676.97 340.19,675.72 342.19,675.63" fill="#000"/>
<polygon points="370.00,649.75 370.71,651.63 372.71,651.72 371.14,652.97 371.68,654.91 370.00,653.80 368.32,654.91 368.86,652.97 367.29,651.72 369.29,651.63" fill="#000"/><polygon points="376.00,649.75 376.71,651.63 378.71,651.72 377.14,652.97 377.68,654.91 376.00,653.80 374.32,654.91 374.86,652.97 373.29,651.72 375.29,651.63" fill="#000"/>
<polygon points="397.30,720.15 398.01,722.03 400.01,722.12 398.44,723.37 398.98,725.31 397.30,724.20 395.62,725.31 396.16,723.37 394.59,722.12 396.59,722.03" fill="#000"/><polygon points="403.30,720.15 404.01,722.03 406.01,722.12 404.44,723.37 404.98,725.31 403.30,724.20 401.62,725.31 402.16,723.37 400.59,722.12 402.59,722.03" fill="#000"/><polygon points="409.30,720.15 410.01,722.03 412.01,722.12 410.44,723.37 410.98,725.31 409.30,724.20 407.62,725.31 408.16,723.37 406.59,722.12 408.59,722.03" fill="#000"/>
<path d="M340.80,668.70 L342.80,659.40 M343.30,668.70 L345.30,659.40 M340.30,662.70 L346.20,662.70 M339.90,665.70 L345.80,665.70" stroke="#000" stroke-width="1.25" fill="none"/>
<path d="M363.30,642.30 L365.30,633.00 M365.80,642.30 L367.80,633.00 M362.80,636.30 L368.70,636.30 M362.40,639.30 L368.30,639.30" stroke="#000" stroke-width="1.25" fill="none"/><path d="M370.60,642.30 L372.60,633.00 M373.10,642.30 L375.10,633.00 M370.10,636.30 L376.00,636.30 M369.70,639.30 L375.60,639.30" stroke="#000" stroke-width="1.25" fill="none"/><path d="M377.90,642.30 L379.90,633.00 M380.40,642.30 L382.40,633.00 M377.40,636.30 L383.30,636.30 M377.00,639.30 L382.90,639.30" stroke="#000" stroke-width="1.25" fill="none"/>
<path d="M394.40,714.70 L396.40,705.40 M396.90,714.70 L398.90,705.40 M393.90,708.70 L399.80,708.70 M393.50,711.70 L399.40,711.70" stroke="#000" stroke-width="1.25" fill="none"/><path d="M401.70,714.70 L403.70,705.40 M404.20,714.70 L406.20,705.40 M401.20,708.70 L407.10,708.70 M400.80,711.70 L406.70,711.70" stroke="#000" stroke-width="1.25" fill="none"/><path d="M409.00,714.70 L411.00,705.40 M411.50,714.70 L413.50,705.40 M408.50,708.70 L414.40,708.70 M408.10,711.70 L414.00,711.70" stroke="#000" stroke-width="1.25" fill="none"/>
<g class="ns">
<text x="223.2" y="591.8" font-size="16" text-anchor="end" font-weight="normal" >120</text>
<text x="223.2" y="676.4" font-size="16" text-anchor="end" font-weight="normal" >60</text>
<text x="223.4" y="760.7" font-size="16" text-anchor="end" font-weight="normal" >0</text>
</g>
<g class="ns">
<text transform="translate(159.5,679.5) rotate(-90)" font-size="16" text-anchor="middle">Peak ATP release</text>
<text transform="translate(178.4,680.5) rotate(-90)" font-size="16" text-anchor="middle">(% control response)</text>
<text transform="translate(258.3,765.6) rotate(-90)" font-size="16" text-anchor="end" letter-spacing="0.05">Control</text>
<text transform="translate(288.3,765.6) rotate(-90)" font-size="16" text-anchor="end" letter-spacing="0.05">U4 0.5<tspan font-style="italic">μ</tspan>M</text>
<text transform="translate(318.3,765.6) rotate(-90)" font-size="16" text-anchor="end" letter-spacing="0.05">Thr 0.03 UmL<tspan font-size="9.5" dx="0.6" dy="-5.2">-1</tspan></text>
<text transform="translate(348.3,765.6) rotate(-90)" font-size="16" text-anchor="end" letter-spacing="0.05">Coll 0.5<tspan font-style="italic">μ</tspan>gmL<tspan font-size="9.5" dx="0.6" dy="-5.2">-1</tspan></text>
<text transform="translate(378.3,765.6) rotate(-90)" font-size="16" text-anchor="end" letter-spacing="0.05">Coll 2<tspan font-style="italic">μ</tspan>gmL<tspan font-size="9.5" dx="0.6" dy="-5.2">-1</tspan></text>
<text transform="translate(408.3,765.6) rotate(-90)" font-size="16" text-anchor="end" letter-spacing="0.05">Pam 10<tspan font-style="italic">μ</tspan>gmL<tspan font-size="9.5" dx="0.6" dy="-5.2">-1</tspan></text>
</g>
<line x1="270.5" y1="878.5" x2="419.5" y2="878.5" stroke="#000" stroke-width="2"/>
<text x="302" y="901.3" font-size="16">+ PGI<tspan font-size="11" dy="4">2</tspan><tspan dy="-4"> 60μM</tspan></text></svg>
</body></html>
